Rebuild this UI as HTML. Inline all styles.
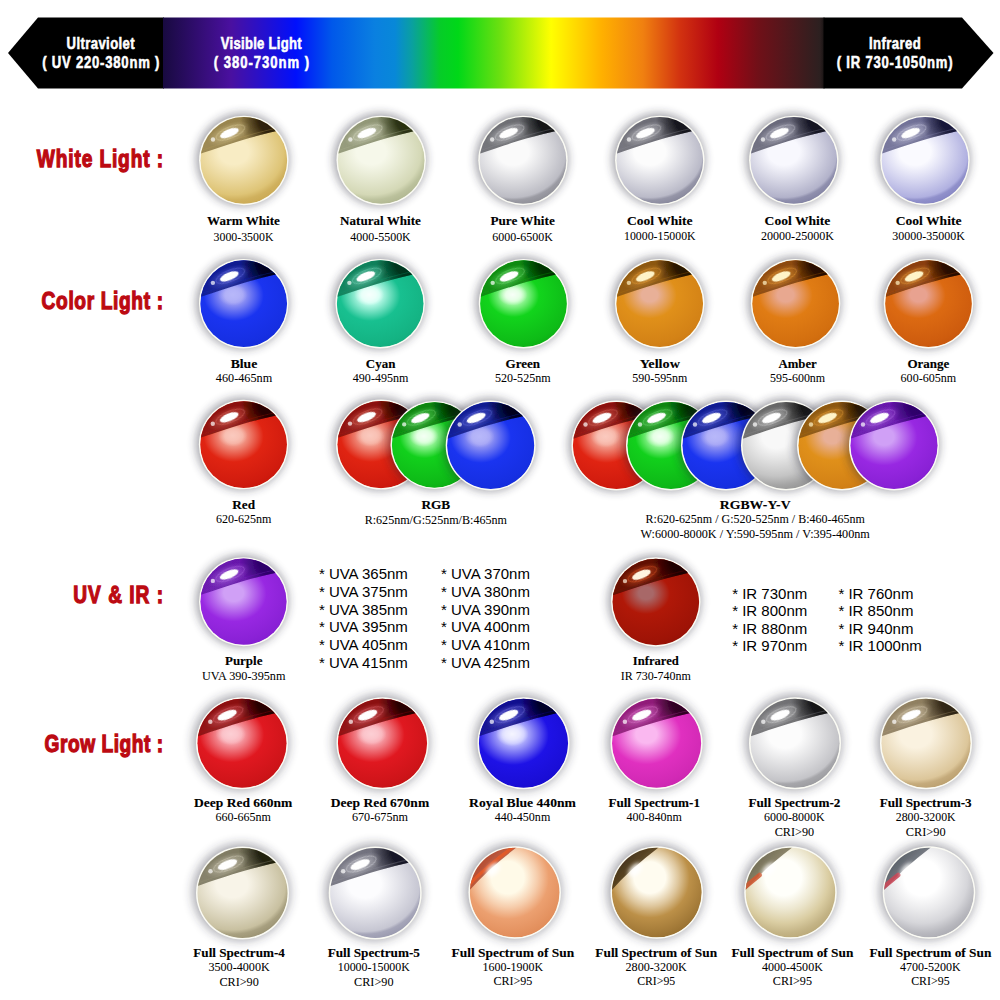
<!DOCTYPE html>
<html><head><meta charset="utf-8"><style>
html,body{margin:0;padding:0;background:#fff;width:1000px;height:1000px;overflow:hidden}
svg{display:block}
.hd{font-family:"Liberation Sans",sans-serif;font-weight:bold;fill:#fff;stroke:#fff;stroke-width:0.55px}
.sec{font-family:"Liberation Sans",sans-serif;font-weight:bold;fill:#bc0a12;stroke:#bc0a12;stroke-width:1.3px;font-size:24.5px}
.lb{font-family:"Liberation Serif",serif;font-weight:bold;fill:#000;stroke:#000;stroke-width:0.12px;font-size:13.5px}
.sb{font-family:"Liberation Serif",serif;fill:#000;stroke:#000;stroke-width:0.05px;font-size:12.2px}
.ls{font-family:"Liberation Sans",sans-serif;fill:#000;font-size:15px}
</style></head><body>
<svg width="1000" height="1000" viewBox="0 0 1000 1000">
<defs>
<filter id="sh" x="-50%" y="-50%" width="200%" height="200%"><feGaussianBlur stdDeviation="5"/></filter>
<filter id="bl" x="-20%" y="-20%" width="140%" height="140%"><feGaussianBlur stdDeviation="0.7"/></filter>
<filter id="bl2" x="-50%" y="-50%" width="200%" height="200%"><feGaussianBlur stdDeviation="2"/></filter>
<clipPath id="cc"><circle r="43.6"/></clipPath>
</defs>
<defs><linearGradient id="spec" x1="163" x2="824" y1="0" y2="0" gradientUnits="userSpaceOnUse"><stop offset="0.0000" stop-color="#180a40"/><stop offset="0.1029" stop-color="#4a10a0"/><stop offset="0.2012" stop-color="#0010fc"/><stop offset="0.2557" stop-color="#0058ea"/><stop offset="0.3207" stop-color="#0a80e0"/><stop offset="0.3510" stop-color="#0888d8"/><stop offset="0.3767" stop-color="#0aa0a0"/><stop offset="0.4191" stop-color="#06cc28"/><stop offset="0.4463" stop-color="#00d818"/><stop offset="0.5098" stop-color="#6ce010"/><stop offset="0.5870" stop-color="#ffff00"/><stop offset="0.6641" stop-color="#ffb000"/><stop offset="0.7262" stop-color="#f08010"/><stop offset="0.7821" stop-color="#d23210"/><stop offset="0.8396" stop-color="#b00012"/><stop offset="0.9002" stop-color="#701018"/><stop offset="0.9939" stop-color="#2c2020"/><stop offset="1.0000" stop-color="#1a1414"/></linearGradient></defs>
<polygon points="8,53 38,17.5 164,17.5 164,88.5 38,88.5" fill="#000"/>
<rect x="163" y="17.5" width="661.5" height="71" fill="url(#spec)"/>
<polygon points="823.5,17.5 962,17.5 993.5,53 962,88.5 823.5,88.5" fill="#000"/>
<text transform="translate(66.3 48.75) scale(0.84 1)" x="0.3" y="0" textLength="81.07" lengthAdjust="spacing" class="hd" style="font-size:15.6px">Ultraviolet</text>
<text transform="translate(42 67.8) scale(0.84 1)" x="0.3" y="0" textLength="139.40" lengthAdjust="spacing" class="hd" style="font-size:15.6px">( UV 220-380nm )</text>
<text transform="translate(220.5 49.2) scale(0.84 1)" x="0.3" y="0" textLength="96.31" lengthAdjust="spacing" class="hd" style="font-size:15.6px">Visible Light</text>
<text transform="translate(213.5 67.7) scale(0.84 1)" x="0.3" y="0" textLength="113.57" lengthAdjust="spacing" class="hd" style="font-size:15.6px">( 380-730nm )</text>
<text transform="translate(868.7 48.9) scale(0.84 1)" x="0.3" y="0" textLength="61.55" lengthAdjust="spacing" class="hd" style="font-size:15.6px">Infrared</text>
<text transform="translate(836.5 67.7) scale(0.84 1)" x="0.3" y="0" textLength="137.86" lengthAdjust="spacing" class="hd" style="font-size:15.6px">( IR 730-1050nm)</text>
<text transform="translate(36.2 166.5) scale(0.78 1)" x="0.8" y="0" textLength="161.79" lengthAdjust="spacing" class="sec">White Light :</text>
<text transform="translate(41.0 309.2) scale(0.78 1)" x="0.8" y="0" textLength="155.64" lengthAdjust="spacing" class="sec">Color Light :</text>
<text transform="translate(72.6 602.7) scale(0.78 1)" x="0.8" y="0" textLength="115.26" lengthAdjust="spacing" class="sec">UV &amp; IR :</text>
<text transform="translate(44.0 752) scale(0.78 1)" x="0.8" y="0" textLength="152.05" lengthAdjust="spacing" class="sec">Grow Light :</text>
<g transform="translate(243.8,160.4) scale(0.9944)"><defs><radialGradient id="h1" cx="-10" cy="-7" r="64" fx="-10" fy="-9" gradientUnits="userSpaceOnUse" gradientTransform="translate(-10 -7) scale(1.18 1) translate(10 7)"><stop offset="0" stop-color="#f8ecc4"/><stop offset="0.198" stop-color="#f8ecc4"/><stop offset="0.429" stop-color="#ebd89d"/><stop offset="0.660" stop-color="#dec476"/><stop offset="0.74" stop-color="#d0b15e"/><stop offset="1" stop-color="#c09a40"/></radialGradient><radialGradient id="k1" cx="30" cy="-42" r="34" gradientUnits="userSpaceOnUse"><stop offset="0" stop-color="#281a04"/><stop offset="0.45" stop-color="#281a04" stop-opacity="0.92"/><stop offset="1" stop-color="#281a04" stop-opacity="0"/></radialGradient><radialGradient id="g1"><stop offset="0" stop-color="#f0e0ad" stop-opacity="0.75"/><stop offset="0.4" stop-color="#f0e0ad" stop-opacity="0.35"/><stop offset="1" stop-color="#f0e0ad" stop-opacity="0"/></radialGradient><clipPath id="tp1"><path d="M-50,-4.5 C-22,-14 8,-25 50,-33 L50,-50 L-50,-50 Z"/></clipPath><linearGradient id="q1" x1="-45" y1="0" x2="40" y2="-10" gradientUnits="userSpaceOnUse"><stop offset="0" stop-color="#8c7843" stop-opacity="0.81"/><stop offset="1" stop-color="#8c7843" stop-opacity="0.95"/></linearGradient></defs><circle cx="-1.2" cy="-0.8" r="46.5" fill="#202030" opacity="0.42" filter="url(#sh)"/><circle r="45" fill="#fbfbf4"/><g clip-path="url(#cc)"><circle r="44" fill="url(#h1)"/><g filter="url(#bl)"><g clip-path="url(#tp1)"><rect x="-50" y="-50" width="100" height="50" fill="url(#q1)"/><rect x="-50" y="-50" width="100" height="50" fill="url(#k1)"/><path d="M-50,-4.5 C-22,-14 8,-25 50,-33" transform="translate(0 -3)" fill="none" stroke="#b59e5c" stroke-width="1" opacity="0.3"/></g></g><ellipse cx="-15" cy="-27" rx="23" ry="10" transform="rotate(-22 -15 -27)" fill="url(#g1)"/><ellipse cx="-13.5" cy="-28" rx="15.5" ry="5.6" transform="rotate(-22 -13.5 -28)" fill="none" stroke="#f0e0ad" stroke-opacity="0.45" stroke-width="0.9" filter="url(#bl)"/><ellipse cx="-14.5" cy="-27.5" rx="10" ry="3.9" transform="rotate(-22 -14.5 -27.5)" fill="#ffffff" filter="url(#bl)"/><circle cx="-31" cy="-21" r="2.2" fill="#ffffff" opacity="0.7" filter="url(#bl)"/></g></g>
<g transform="translate(381.2,160.4) scale(0.9944)"><defs><radialGradient id="h2" cx="-10" cy="-7" r="64" fx="-10" fy="-9" gradientUnits="userSpaceOnUse" gradientTransform="translate(-10 -7) scale(1.18 1) translate(10 7)"><stop offset="0" stop-color="#f6f8ea"/><stop offset="0.198" stop-color="#f6f8ea"/><stop offset="0.429" stop-color="#e5e8d0"/><stop offset="0.660" stop-color="#d4d8b6"/><stop offset="0.74" stop-color="#bbc19c"/><stop offset="1" stop-color="#9ca47c"/></radialGradient><radialGradient id="k2" cx="30" cy="-42" r="34" gradientUnits="userSpaceOnUse"><stop offset="0" stop-color="#242c0c"/><stop offset="0.45" stop-color="#242c0c" stop-opacity="0.92"/><stop offset="1" stop-color="#242c0c" stop-opacity="0"/></radialGradient><radialGradient id="g2"><stop offset="0" stop-color="#eceeda" stop-opacity="0.75"/><stop offset="0.4" stop-color="#eceeda" stop-opacity="0.35"/><stop offset="1" stop-color="#eceeda" stop-opacity="0"/></radialGradient><clipPath id="tp2"><path d="M-50,-4.5 C-22,-14 8,-25 50,-33 L50,-50 L-50,-50 Z"/></clipPath><linearGradient id="q2" x1="-45" y1="0" x2="40" y2="-10" gradientUnits="userSpaceOnUse"><stop offset="0" stop-color="#858b6a" stop-opacity="0.81"/><stop offset="1" stop-color="#858b6a" stop-opacity="0.95"/></linearGradient></defs><circle cx="-1.2" cy="-0.8" r="46.5" fill="#202030" opacity="0.42" filter="url(#sh)"/><circle r="45" fill="#fbfbf4"/><g clip-path="url(#cc)"><circle r="44" fill="url(#h2)"/><g filter="url(#bl)"><g clip-path="url(#tp2)"><rect x="-50" y="-50" width="100" height="50" fill="url(#q2)"/><rect x="-50" y="-50" width="100" height="50" fill="url(#k2)"/><path d="M-50,-4.5 C-22,-14 8,-25 50,-33" transform="translate(0 -3)" fill="none" stroke="#acb290" stroke-width="1" opacity="0.3"/></g></g><ellipse cx="-15" cy="-27" rx="23" ry="10" transform="rotate(-22 -15 -27)" fill="url(#g2)"/><ellipse cx="-13.5" cy="-28" rx="15.5" ry="5.6" transform="rotate(-22 -13.5 -28)" fill="none" stroke="#eceeda" stroke-opacity="0.45" stroke-width="0.9" filter="url(#bl)"/><ellipse cx="-14.5" cy="-27.5" rx="10" ry="3.9" transform="rotate(-22 -14.5 -27.5)" fill="#ffffff" filter="url(#bl)"/><circle cx="-31" cy="-21" r="2.2" fill="#ffffff" opacity="0.7" filter="url(#bl)"/></g></g>
<g transform="translate(523,160.4) scale(0.9944)"><defs><radialGradient id="h3" cx="-10" cy="-7" r="64" fx="-10" fy="-9" gradientUnits="userSpaceOnUse" gradientTransform="translate(-10 -7) scale(1.18 1) translate(10 7)"><stop offset="0" stop-color="#fafafa"/><stop offset="0.210" stop-color="#fafafa"/><stop offset="0.455" stop-color="#dbdbdf"/><stop offset="0.700" stop-color="#bcbcc4"/><stop offset="0.74" stop-color="#9c9ca4"/><stop offset="1" stop-color="#74747c"/></radialGradient><radialGradient id="k3" cx="30" cy="-42" r="34" gradientUnits="userSpaceOnUse"><stop offset="0" stop-color="#101214"/><stop offset="0.45" stop-color="#101214" stop-opacity="0.92"/><stop offset="1" stop-color="#101214" stop-opacity="0"/></radialGradient><radialGradient id="g3"><stop offset="0" stop-color="#e7e7ea" stop-opacity="0.75"/><stop offset="0.4" stop-color="#e7e7ea" stop-opacity="0.35"/><stop offset="1" stop-color="#e7e7ea" stop-opacity="0"/></radialGradient><clipPath id="tp3"><path d="M-50,-4.5 C-22,-14 8,-25 50,-33 L50,-50 L-50,-50 Z"/></clipPath><linearGradient id="q3" x1="-45" y1="0" x2="40" y2="-10" gradientUnits="userSpaceOnUse"><stop offset="0" stop-color="#5d5e63" stop-opacity="0.81"/><stop offset="1" stop-color="#5d5e63" stop-opacity="0.95"/></linearGradient></defs><circle cx="-1.2" cy="-0.8" r="46.5" fill="#202030" opacity="0.42" filter="url(#sh)"/><circle r="45" fill="#fbfbf4"/><g clip-path="url(#cc)"><circle r="44" fill="url(#h3)"/><g filter="url(#bl)"><g clip-path="url(#tp3)"><rect x="-50" y="-50" width="100" height="50" fill="url(#q3)"/><rect x="-50" y="-50" width="100" height="50" fill="url(#k3)"/><path d="M-50,-4.5 C-22,-14 8,-25 50,-33" transform="translate(0 -3)" fill="none" stroke="#8c8d94" stroke-width="1" opacity="0.3"/></g></g><ellipse cx="-15" cy="-27" rx="23" ry="10" transform="rotate(-22 -15 -27)" fill="url(#g3)"/><ellipse cx="-13.5" cy="-28" rx="15.5" ry="5.6" transform="rotate(-22 -13.5 -28)" fill="none" stroke="#e7e7ea" stroke-opacity="0.45" stroke-width="0.9" filter="url(#bl)"/><ellipse cx="-14.5" cy="-27.5" rx="10" ry="3.9" transform="rotate(-22 -14.5 -27.5)" fill="#ffffff" filter="url(#bl)"/><circle cx="-31" cy="-21" r="2.2" fill="#ffffff" opacity="0.7" filter="url(#bl)"/></g></g>
<g transform="translate(659.8,160.4) scale(0.9944)"><defs><radialGradient id="h4" cx="-10" cy="-7" r="64" fx="-10" fy="-9" gradientUnits="userSpaceOnUse" gradientTransform="translate(-10 -7) scale(1.18 1) translate(10 7)"><stop offset="0" stop-color="#fcfcfc"/><stop offset="0.210" stop-color="#fcfcfc"/><stop offset="0.455" stop-color="#dbdbe2"/><stop offset="0.700" stop-color="#babac8"/><stop offset="0.74" stop-color="#9696a8"/><stop offset="1" stop-color="#6a6a82"/></radialGradient><radialGradient id="k4" cx="30" cy="-42" r="34" gradientUnits="userSpaceOnUse"><stop offset="0" stop-color="#121218"/><stop offset="0.45" stop-color="#121218" stop-opacity="0.92"/><stop offset="1" stop-color="#121218" stop-opacity="0"/></radialGradient><radialGradient id="g4"><stop offset="0" stop-color="#e8e8ec" stop-opacity="0.75"/><stop offset="0.4" stop-color="#e8e8ec" stop-opacity="0.35"/><stop offset="1" stop-color="#e8e8ec" stop-opacity="0"/></radialGradient><clipPath id="tp4"><path d="M-50,-4.5 C-22,-14 8,-25 50,-33 L50,-50 L-50,-50 Z"/></clipPath><linearGradient id="q4" x1="-45" y1="0" x2="40" y2="-10" gradientUnits="userSpaceOnUse"><stop offset="0" stop-color="#5e5e67" stop-opacity="0.81"/><stop offset="1" stop-color="#5e5e67" stop-opacity="0.95"/></linearGradient></defs><circle cx="-1.2" cy="-0.8" r="46.5" fill="#202030" opacity="0.42" filter="url(#sh)"/><circle r="45" fill="#fbfbf4"/><g clip-path="url(#cc)"><circle r="44" fill="url(#h4)"/><g filter="url(#bl)"><g clip-path="url(#tp4)"><rect x="-50" y="-50" width="100" height="50" fill="url(#q4)"/><rect x="-50" y="-50" width="100" height="50" fill="url(#k4)"/><path d="M-50,-4.5 C-22,-14 8,-25 50,-33" transform="translate(0 -3)" fill="none" stroke="#8c8c98" stroke-width="1" opacity="0.3"/></g></g><ellipse cx="-15" cy="-27" rx="23" ry="10" transform="rotate(-22 -15 -27)" fill="url(#g4)"/><ellipse cx="-13.5" cy="-28" rx="15.5" ry="5.6" transform="rotate(-22 -13.5 -28)" fill="none" stroke="#e8e8ec" stroke-opacity="0.45" stroke-width="0.9" filter="url(#bl)"/><ellipse cx="-14.5" cy="-27.5" rx="10" ry="3.9" transform="rotate(-22 -14.5 -27.5)" fill="#ffffff" filter="url(#bl)"/><circle cx="-31" cy="-21" r="2.2" fill="#ffffff" opacity="0.7" filter="url(#bl)"/></g></g>
<g transform="translate(793.8,160.4) scale(0.9944)"><defs><radialGradient id="h5" cx="-10" cy="-7" r="64" fx="-10" fy="-9" gradientUnits="userSpaceOnUse" gradientTransform="translate(-10 -7) scale(1.18 1) translate(10 7)"><stop offset="0" stop-color="#f8f8fe"/><stop offset="0.210" stop-color="#f8f8fe"/><stop offset="0.455" stop-color="#d5d5e4"/><stop offset="0.700" stop-color="#b2b2ca"/><stop offset="0.74" stop-color="#9090ae"/><stop offset="1" stop-color="#66668c"/></radialGradient><radialGradient id="k5" cx="30" cy="-42" r="34" gradientUnits="userSpaceOnUse"><stop offset="0" stop-color="#10101e"/><stop offset="0.45" stop-color="#10101e" stop-opacity="0.92"/><stop offset="1" stop-color="#10101e" stop-opacity="0"/></radialGradient><radialGradient id="g5"><stop offset="0" stop-color="#e3e3ee" stop-opacity="0.75"/><stop offset="0.4" stop-color="#e3e3ee" stop-opacity="0.35"/><stop offset="1" stop-color="#e3e3ee" stop-opacity="0"/></radialGradient><clipPath id="tp5"><path d="M-50,-4.5 C-22,-14 8,-25 50,-33 L50,-50 L-50,-50 Z"/></clipPath><linearGradient id="q5" x1="-45" y1="0" x2="40" y2="-10" gradientUnits="userSpaceOnUse"><stop offset="0" stop-color="#59596b" stop-opacity="0.81"/><stop offset="1" stop-color="#59596b" stop-opacity="0.95"/></linearGradient></defs><circle cx="-1.2" cy="-0.8" r="46.5" fill="#202030" opacity="0.42" filter="url(#sh)"/><circle r="45" fill="#fbfbf4"/><g clip-path="url(#cc)"><circle r="44" fill="url(#h5)"/><g filter="url(#bl)"><g clip-path="url(#tp5)"><rect x="-50" y="-50" width="100" height="50" fill="url(#q5)"/><rect x="-50" y="-50" width="100" height="50" fill="url(#k5)"/><path d="M-50,-4.5 C-22,-14 8,-25 50,-33" transform="translate(0 -3)" fill="none" stroke="#86869a" stroke-width="1" opacity="0.3"/></g></g><ellipse cx="-15" cy="-27" rx="23" ry="10" transform="rotate(-22 -15 -27)" fill="url(#g5)"/><ellipse cx="-13.5" cy="-28" rx="15.5" ry="5.6" transform="rotate(-22 -13.5 -28)" fill="none" stroke="#e3e3ee" stroke-opacity="0.45" stroke-width="0.9" filter="url(#bl)"/><ellipse cx="-14.5" cy="-27.5" rx="10" ry="3.9" transform="rotate(-22 -14.5 -27.5)" fill="#ffffff" filter="url(#bl)"/><circle cx="-31" cy="-21" r="2.2" fill="#ffffff" opacity="0.7" filter="url(#bl)"/></g></g>
<g transform="translate(925,160.4) scale(0.9944)"><defs><radialGradient id="h6" cx="-10" cy="-7" r="64" fx="-10" fy="-9" gradientUnits="userSpaceOnUse" gradientTransform="translate(-10 -7) scale(1.18 1) translate(10 7)"><stop offset="0" stop-color="#fafaff"/><stop offset="0.210" stop-color="#fafaff"/><stop offset="0.455" stop-color="#d5d5f0"/><stop offset="0.700" stop-color="#b0b0e0"/><stop offset="0.74" stop-color="#9191cb"/><stop offset="1" stop-color="#6c6cb2"/></radialGradient><radialGradient id="k6" cx="30" cy="-42" r="34" gradientUnits="userSpaceOnUse"><stop offset="0" stop-color="#141434"/><stop offset="0.45" stop-color="#141434" stop-opacity="0.92"/><stop offset="1" stop-color="#141434" stop-opacity="0"/></radialGradient><radialGradient id="g6"><stop offset="0" stop-color="#e4e4f6" stop-opacity="0.75"/><stop offset="0.4" stop-color="#e4e4f6" stop-opacity="0.35"/><stop offset="1" stop-color="#e4e4f6" stop-opacity="0"/></radialGradient><clipPath id="tp6"><path d="M-50,-4.5 C-22,-14 8,-25 50,-33 L50,-50 L-50,-50 Z"/></clipPath><linearGradient id="q6" x1="-45" y1="0" x2="40" y2="-10" gradientUnits="userSpaceOnUse"><stop offset="0" stop-color="#62628a" stop-opacity="0.81"/><stop offset="1" stop-color="#62628a" stop-opacity="0.95"/></linearGradient></defs><circle cx="-1.2" cy="-0.8" r="46.5" fill="#202030" opacity="0.42" filter="url(#sh)"/><circle r="45" fill="#fbfbf4"/><g clip-path="url(#cc)"><circle r="44" fill="url(#h6)"/><g filter="url(#bl)"><g clip-path="url(#tp6)"><rect x="-50" y="-50" width="100" height="50" fill="url(#q6)"/><rect x="-50" y="-50" width="100" height="50" fill="url(#k6)"/><path d="M-50,-4.5 C-22,-14 8,-25 50,-33" transform="translate(0 -3)" fill="none" stroke="#8989b5" stroke-width="1" opacity="0.3"/></g></g><ellipse cx="-15" cy="-27" rx="23" ry="10" transform="rotate(-22 -15 -27)" fill="url(#g6)"/><ellipse cx="-13.5" cy="-28" rx="15.5" ry="5.6" transform="rotate(-22 -13.5 -28)" fill="none" stroke="#e4e4f6" stroke-opacity="0.45" stroke-width="0.9" filter="url(#bl)"/><ellipse cx="-14.5" cy="-27.5" rx="10" ry="3.9" transform="rotate(-22 -14.5 -27.5)" fill="#ffffff" filter="url(#bl)"/><circle cx="-31" cy="-21" r="2.2" fill="#ffffff" opacity="0.7" filter="url(#bl)"/></g></g>
<g transform="translate(243.7,303.7) scale(0.9944)"><defs><radialGradient id="h7" cx="-10" cy="-7" r="64" fx="-10" fy="-9" gradientUnits="userSpaceOnUse" gradientTransform="translate(-10 -7) scale(1.18 1) translate(10 7)"><stop offset="0" stop-color="#a0a0f4"/><stop offset="0.120" stop-color="#a0a0f4"/><stop offset="0.260" stop-color="#5d6af2"/><stop offset="0.400" stop-color="#1a34f0"/><stop offset="0.74" stop-color="#162fe2"/><stop offset="1" stop-color="#1028d0"/></radialGradient><radialGradient id="k7" cx="30" cy="-42" r="34" gradientUnits="userSpaceOnUse"><stop offset="0" stop-color="#000018"/><stop offset="0.45" stop-color="#000018" stop-opacity="0.92"/><stop offset="1" stop-color="#000018" stop-opacity="0"/></radialGradient><radialGradient id="g7"><stop offset="0" stop-color="#7880f3" stop-opacity="0.75"/><stop offset="0.4" stop-color="#7880f3" stop-opacity="0.35"/><stop offset="1" stop-color="#7880f3" stop-opacity="0"/></radialGradient><clipPath id="tp7"><path d="M-50,-4.5 C-22,-14 8,-25 50,-33 L50,-50 L-50,-50 Z"/></clipPath><linearGradient id="q7" x1="-45" y1="0" x2="40" y2="-10" gradientUnits="userSpaceOnUse"><stop offset="0" stop-color="#0d1a84" stop-opacity="0.81"/><stop offset="1" stop-color="#0d1a84" stop-opacity="0.95"/></linearGradient></defs><circle cx="-1.2" cy="-0.8" r="46.5" fill="#202030" opacity="0.42" filter="url(#sh)"/><circle r="45" fill="#fbfbf4"/><g clip-path="url(#cc)"><circle r="44" fill="url(#h7)"/><radialGradient id="sp7"><stop offset="0" stop-color="#d0d0ff" stop-opacity="0.5"/><stop offset="0.45" stop-color="#d0d0ff" stop-opacity="0.38"/><stop offset="1" stop-color="#d0d0ff" stop-opacity="0"/></radialGradient><ellipse cx="-11" cy="-9" rx="15" ry="11" fill="url(#sp7)"/><g filter="url(#bl)"><g clip-path="url(#tp7)"><rect x="-50" y="-50" width="100" height="50" fill="url(#q7)"/><rect x="-50" y="-50" width="100" height="50" fill="url(#k7)"/><path d="M-50,-4.5 C-22,-14 8,-25 50,-33" transform="translate(0 -3)" fill="none" stroke="#1427ba" stroke-width="1" opacity="0.3"/></g></g><ellipse cx="-15" cy="-27" rx="23" ry="10" transform="rotate(-22 -15 -27)" fill="url(#g7)"/><ellipse cx="-13.5" cy="-28" rx="15.5" ry="5.6" transform="rotate(-22 -13.5 -28)" fill="none" stroke="#7880f3" stroke-opacity="0.45" stroke-width="0.9" filter="url(#bl)"/><ellipse cx="-14.5" cy="-27.5" rx="10" ry="3.9" transform="rotate(-22 -14.5 -27.5)" fill="#ffffff" filter="url(#bl)"/><circle cx="-31" cy="-21" r="2.2" fill="#ffffff" opacity="0.7" filter="url(#bl)"/></g></g>
<g transform="translate(380.2,303.7) scale(0.9944)"><defs><radialGradient id="h8" cx="-10" cy="-7" r="64" fx="-10" fy="-9" gradientUnits="userSpaceOnUse" gradientTransform="translate(-10 -7) scale(1.18 1) translate(10 7)"><stop offset="0" stop-color="#c8fff0"/><stop offset="0.120" stop-color="#c8fff0"/><stop offset="0.260" stop-color="#70e0c0"/><stop offset="0.400" stop-color="#18c090"/><stop offset="0.74" stop-color="#14b383"/><stop offset="1" stop-color="#0ea474"/></radialGradient><radialGradient id="k8" cx="30" cy="-42" r="34" gradientUnits="userSpaceOnUse"><stop offset="0" stop-color="#003018"/><stop offset="0.45" stop-color="#003018" stop-opacity="0.92"/><stop offset="1" stop-color="#003018" stop-opacity="0"/></radialGradient><radialGradient id="g8"><stop offset="0" stop-color="#93ecd3" stop-opacity="0.75"/><stop offset="0.4" stop-color="#93ecd3" stop-opacity="0.35"/><stop offset="1" stop-color="#93ecd3" stop-opacity="0"/></radialGradient><clipPath id="tp8"><path d="M-50,-4.5 C-22,-14 8,-25 50,-33 L50,-50 L-50,-50 Z"/></clipPath><linearGradient id="q8" x1="-45" y1="0" x2="40" y2="-10" gradientUnits="userSpaceOnUse"><stop offset="0" stop-color="#0c7854" stop-opacity="0.81"/><stop offset="1" stop-color="#0c7854" stop-opacity="0.95"/></linearGradient></defs><circle cx="-1.2" cy="-0.8" r="46.5" fill="#202030" opacity="0.42" filter="url(#sh)"/><circle r="45" fill="#fbfbf4"/><g clip-path="url(#cc)"><circle r="44" fill="url(#h8)"/><radialGradient id="sp8"><stop offset="0" stop-color="#ffffff" stop-opacity="0.85"/><stop offset="0.45" stop-color="#ffffff" stop-opacity="0.64"/><stop offset="1" stop-color="#ffffff" stop-opacity="0"/></radialGradient><ellipse cx="-11" cy="-9" rx="15" ry="11" fill="url(#sp8)"/><g filter="url(#bl)"><g clip-path="url(#tp8)"><rect x="-50" y="-50" width="100" height="50" fill="url(#q8)"/><rect x="-50" y="-50" width="100" height="50" fill="url(#k8)"/><path d="M-50,-4.5 C-22,-14 8,-25 50,-33" transform="translate(0 -3)" fill="none" stroke="#129c72" stroke-width="1" opacity="0.3"/></g></g><ellipse cx="-15" cy="-27" rx="23" ry="10" transform="rotate(-22 -15 -27)" fill="url(#g8)"/><ellipse cx="-13.5" cy="-28" rx="15.5" ry="5.6" transform="rotate(-22 -13.5 -28)" fill="none" stroke="#93ecd3" stroke-opacity="0.45" stroke-width="0.9" filter="url(#bl)"/><ellipse cx="-14.5" cy="-27.5" rx="10" ry="3.9" transform="rotate(-22 -14.5 -27.5)" fill="#ffffff" filter="url(#bl)"/><circle cx="-31" cy="-21" r="2.2" fill="#ffffff" opacity="0.7" filter="url(#bl)"/></g></g>
<g transform="translate(523.5,303.7) scale(0.9944)"><defs><radialGradient id="h9" cx="-10" cy="-7" r="64" fx="-10" fy="-9" gradientUnits="userSpaceOnUse" gradientTransform="translate(-10 -7) scale(1.18 1) translate(10 7)"><stop offset="0" stop-color="#b8ffb8"/><stop offset="0.102" stop-color="#b8ffb8"/><stop offset="0.221" stop-color="#65ea6a"/><stop offset="0.340" stop-color="#12d41c"/><stop offset="0.74" stop-color="#0ebb17"/><stop offset="1" stop-color="#089c10"/></radialGradient><radialGradient id="k9" cx="30" cy="-42" r="34" gradientUnits="userSpaceOnUse"><stop offset="0" stop-color="#002e00"/><stop offset="0.45" stop-color="#002e00" stop-opacity="0.92"/><stop offset="1" stop-color="#002e00" stop-opacity="0"/></radialGradient><radialGradient id="g9"><stop offset="0" stop-color="#86f289" stop-opacity="0.75"/><stop offset="0.4" stop-color="#86f289" stop-opacity="0.35"/><stop offset="1" stop-color="#86f289" stop-opacity="0"/></radialGradient><clipPath id="tp9"><path d="M-50,-4.5 C-22,-14 8,-25 50,-33 L50,-50 L-50,-50 Z"/></clipPath><linearGradient id="q9" x1="-45" y1="0" x2="40" y2="-10" gradientUnits="userSpaceOnUse"><stop offset="0" stop-color="#09810e" stop-opacity="0.81"/><stop offset="1" stop-color="#09810e" stop-opacity="0.95"/></linearGradient></defs><circle cx="-1.2" cy="-0.8" r="46.5" fill="#202030" opacity="0.42" filter="url(#sh)"/><circle r="45" fill="#fbfbf4"/><g clip-path="url(#cc)"><circle r="44" fill="url(#h9)"/><radialGradient id="sp9"><stop offset="0" stop-color="#ffffff" stop-opacity="0.9"/><stop offset="0.45" stop-color="#ffffff" stop-opacity="0.68"/><stop offset="1" stop-color="#ffffff" stop-opacity="0"/></radialGradient><ellipse cx="-11" cy="-9" rx="15" ry="11" fill="url(#sp9)"/><g filter="url(#bl)"><g clip-path="url(#tp9)"><rect x="-50" y="-50" width="100" height="50" fill="url(#q9)"/><rect x="-50" y="-50" width="100" height="50" fill="url(#k9)"/><path d="M-50,-4.5 C-22,-14 8,-25 50,-33" transform="translate(0 -3)" fill="none" stroke="#0eaa15" stroke-width="1" opacity="0.3"/></g></g><ellipse cx="-15" cy="-27" rx="23" ry="10" transform="rotate(-22 -15 -27)" fill="url(#g9)"/><ellipse cx="-13.5" cy="-28" rx="15.5" ry="5.6" transform="rotate(-22 -13.5 -28)" fill="none" stroke="#86f289" stroke-opacity="0.45" stroke-width="0.9" filter="url(#bl)"/><ellipse cx="-14.5" cy="-27.5" rx="10" ry="3.9" transform="rotate(-22 -14.5 -27.5)" fill="#ffffff" filter="url(#bl)"/><circle cx="-31" cy="-21" r="2.2" fill="#ffffff" opacity="0.7" filter="url(#bl)"/></g></g>
<g transform="translate(659.7,303.7) scale(0.9944)"><defs><radialGradient id="h10" cx="-10" cy="-7" r="64" fx="-10" fy="-9" gradientUnits="userSpaceOnUse" gradientTransform="translate(-10 -7) scale(1.18 1) translate(10 7)"><stop offset="0" stop-color="#e8b098"/><stop offset="0.108" stop-color="#e8b098"/><stop offset="0.234" stop-color="#e4a059"/><stop offset="0.360" stop-color="#e0901a"/><stop offset="0.74" stop-color="#d38216"/><stop offset="1" stop-color="#c47010"/></radialGradient><radialGradient id="k10" cx="30" cy="-42" r="34" gradientUnits="userSpaceOnUse"><stop offset="0" stop-color="#221000"/><stop offset="0.45" stop-color="#221000" stop-opacity="0.92"/><stop offset="1" stop-color="#221000" stop-opacity="0"/></radialGradient><radialGradient id="g10"><stop offset="0" stop-color="#ffb040" stop-opacity="0.75"/><stop offset="0.4" stop-color="#ffb040" stop-opacity="0.35"/><stop offset="1" stop-color="#ffb040" stop-opacity="0"/></radialGradient><clipPath id="tp10"><path d="M-50,-4.5 C-22,-14 8,-25 50,-33 L50,-50 L-50,-50 Z"/></clipPath><linearGradient id="q10" x1="-45" y1="0" x2="40" y2="-10" gradientUnits="userSpaceOnUse"><stop offset="0" stop-color="#81500d" stop-opacity="0.81"/><stop offset="1" stop-color="#81500d" stop-opacity="0.95"/></linearGradient></defs><circle cx="-1.2" cy="-0.8" r="46.5" fill="#202030" opacity="0.42" filter="url(#sh)"/><circle r="45" fill="#fbfbf4"/><g clip-path="url(#cc)"><circle r="44" fill="url(#h10)"/><g filter="url(#bl)"><g clip-path="url(#tp10)"><rect x="-50" y="-50" width="100" height="50" fill="url(#q10)"/><rect x="-50" y="-50" width="100" height="50" fill="url(#k10)"/><path d="M-50,-4.5 C-22,-14 8,-25 50,-33" transform="translate(0 -3)" fill="none" stroke="#b07014" stroke-width="1" opacity="0.3"/></g></g><ellipse cx="-15" cy="-27" rx="23" ry="10" transform="rotate(-22 -15 -27)" fill="url(#g10)"/><ellipse cx="-13.5" cy="-28" rx="15.5" ry="5.6" transform="rotate(-22 -13.5 -28)" fill="none" stroke="#ffb040" stroke-opacity="0.45" stroke-width="0.9" filter="url(#bl)"/><ellipse cx="-14.5" cy="-27.5" rx="10" ry="3.9" transform="rotate(-22 -14.5 -27.5)" fill="#fff4c8" filter="url(#bl)"/><circle cx="-31" cy="-21" r="2.2" fill="#fff4c8" opacity="0.7" filter="url(#bl)"/></g></g>
<g transform="translate(795.6,303.7) scale(0.9944)"><defs><radialGradient id="h11" cx="-10" cy="-7" r="64" fx="-10" fy="-9" gradientUnits="userSpaceOnUse" gradientTransform="translate(-10 -7) scale(1.18 1) translate(10 7)"><stop offset="0" stop-color="#e8a890"/><stop offset="0.108" stop-color="#e8a890"/><stop offset="0.234" stop-color="#e49252"/><stop offset="0.360" stop-color="#e07c14"/><stop offset="0.74" stop-color="#d36f0f"/><stop offset="1" stop-color="#c46008"/></radialGradient><radialGradient id="k11" cx="30" cy="-42" r="34" gradientUnits="userSpaceOnUse"><stop offset="0" stop-color="#220a00"/><stop offset="0.45" stop-color="#220a00" stop-opacity="0.92"/><stop offset="1" stop-color="#220a00" stop-opacity="0"/></radialGradient><radialGradient id="g11"><stop offset="0" stop-color="#ffb040" stop-opacity="0.75"/><stop offset="0.4" stop-color="#ffb040" stop-opacity="0.35"/><stop offset="1" stop-color="#ffb040" stop-opacity="0"/></radialGradient><clipPath id="tp11"><path d="M-50,-4.5 C-22,-14 8,-25 50,-33 L50,-50 L-50,-50 Z"/></clipPath><linearGradient id="q11" x1="-45" y1="0" x2="40" y2="-10" gradientUnits="userSpaceOnUse"><stop offset="0" stop-color="#81430a" stop-opacity="0.81"/><stop offset="1" stop-color="#81430a" stop-opacity="0.95"/></linearGradient></defs><circle cx="-1.2" cy="-0.8" r="46.5" fill="#202030" opacity="0.42" filter="url(#sh)"/><circle r="45" fill="#fbfbf4"/><g clip-path="url(#cc)"><circle r="44" fill="url(#h11)"/><g filter="url(#bl)"><g clip-path="url(#tp11)"><rect x="-50" y="-50" width="100" height="50" fill="url(#q11)"/><rect x="-50" y="-50" width="100" height="50" fill="url(#k11)"/><path d="M-50,-4.5 C-22,-14 8,-25 50,-33" transform="translate(0 -3)" fill="none" stroke="#b0600f" stroke-width="1" opacity="0.3"/></g></g><ellipse cx="-15" cy="-27" rx="23" ry="10" transform="rotate(-22 -15 -27)" fill="url(#g11)"/><ellipse cx="-13.5" cy="-28" rx="15.5" ry="5.6" transform="rotate(-22 -13.5 -28)" fill="none" stroke="#ffb040" stroke-opacity="0.45" stroke-width="0.9" filter="url(#bl)"/><ellipse cx="-14.5" cy="-27.5" rx="10" ry="3.9" transform="rotate(-22 -14.5 -27.5)" fill="#fff4c8" filter="url(#bl)"/><circle cx="-31" cy="-21" r="2.2" fill="#fff4c8" opacity="0.7" filter="url(#bl)"/></g></g>
<g transform="translate(928.5,303.7) scale(0.9944)"><defs><radialGradient id="h12" cx="-10" cy="-7" r="64" fx="-10" fy="-9" gradientUnits="userSpaceOnUse" gradientTransform="translate(-10 -7) scale(1.18 1) translate(10 7)"><stop offset="0" stop-color="#e8a290"/><stop offset="0.108" stop-color="#e8a290"/><stop offset="0.234" stop-color="#e28651"/><stop offset="0.360" stop-color="#dc6a12"/><stop offset="0.74" stop-color="#ce5c0e"/><stop offset="1" stop-color="#bc4c08"/></radialGradient><radialGradient id="k12" cx="30" cy="-42" r="34" gradientUnits="userSpaceOnUse"><stop offset="0" stop-color="#220800"/><stop offset="0.45" stop-color="#220800" stop-opacity="0.92"/><stop offset="1" stop-color="#220800" stop-opacity="0"/></radialGradient><radialGradient id="g12"><stop offset="0" stop-color="#ffb040" stop-opacity="0.75"/><stop offset="0.4" stop-color="#ffb040" stop-opacity="0.35"/><stop offset="1" stop-color="#ffb040" stop-opacity="0"/></radialGradient><clipPath id="tp12"><path d="M-50,-4.5 C-22,-14 8,-25 50,-33 L50,-50 L-50,-50 Z"/></clipPath><linearGradient id="q12" x1="-45" y1="0" x2="40" y2="-10" gradientUnits="userSpaceOnUse"><stop offset="0" stop-color="#7f3909" stop-opacity="0.81"/><stop offset="1" stop-color="#7f3909" stop-opacity="0.95"/></linearGradient></defs><circle cx="-1.2" cy="-0.8" r="46.5" fill="#202030" opacity="0.42" filter="url(#sh)"/><circle r="45" fill="#fbfbf4"/><g clip-path="url(#cc)"><circle r="44" fill="url(#h12)"/><g filter="url(#bl)"><g clip-path="url(#tp12)"><rect x="-50" y="-50" width="100" height="50" fill="url(#q12)"/><rect x="-50" y="-50" width="100" height="50" fill="url(#k12)"/><path d="M-50,-4.5 C-22,-14 8,-25 50,-33" transform="translate(0 -3)" fill="none" stroke="#ae520e" stroke-width="1" opacity="0.3"/></g></g><ellipse cx="-15" cy="-27" rx="23" ry="10" transform="rotate(-22 -15 -27)" fill="url(#g12)"/><ellipse cx="-13.5" cy="-28" rx="15.5" ry="5.6" transform="rotate(-22 -13.5 -28)" fill="none" stroke="#ffb040" stroke-opacity="0.45" stroke-width="0.9" filter="url(#bl)"/><ellipse cx="-14.5" cy="-27.5" rx="10" ry="3.9" transform="rotate(-22 -14.5 -27.5)" fill="#fff4c8" filter="url(#bl)"/><circle cx="-31" cy="-21" r="2.2" fill="#fff4c8" opacity="0.7" filter="url(#bl)"/></g></g>
<g transform="translate(243.6,444.6) scale(0.9944)"><defs><radialGradient id="h13" cx="-10" cy="-7" r="64" fx="-10" fy="-9" gradientUnits="userSpaceOnUse" gradientTransform="translate(-10 -7) scale(1.18 1) translate(10 7)"><stop offset="0" stop-color="#f4a898"/><stop offset="0.120" stop-color="#f4a898"/><stop offset="0.260" stop-color="#ea6655"/><stop offset="0.400" stop-color="#e02412"/><stop offset="0.74" stop-color="#d01b0e"/><stop offset="1" stop-color="#bc1008"/></radialGradient><radialGradient id="k13" cx="30" cy="-42" r="34" gradientUnits="userSpaceOnUse"><stop offset="0" stop-color="#200000"/><stop offset="0.45" stop-color="#200000" stop-opacity="0.92"/><stop offset="1" stop-color="#200000" stop-opacity="0"/></radialGradient><radialGradient id="g13"><stop offset="0" stop-color="#ee8070" stop-opacity="0.75"/><stop offset="0.4" stop-color="#ee8070" stop-opacity="0.35"/><stop offset="1" stop-color="#ee8070" stop-opacity="0"/></radialGradient><clipPath id="tp13"><path d="M-50,-4.5 C-22,-14 8,-25 50,-33 L50,-50 L-50,-50 Z"/></clipPath><linearGradient id="q13" x1="-45" y1="0" x2="40" y2="-10" gradientUnits="userSpaceOnUse"><stop offset="0" stop-color="#801209" stop-opacity="0.81"/><stop offset="1" stop-color="#801209" stop-opacity="0.95"/></linearGradient></defs><circle cx="-1.2" cy="-0.8" r="46.5" fill="#202030" opacity="0.42" filter="url(#sh)"/><circle r="45" fill="#fbfbf4"/><g clip-path="url(#cc)"><circle r="44" fill="url(#h13)"/><radialGradient id="sp13"><stop offset="0" stop-color="#ffe0d8" stop-opacity="0.6"/><stop offset="0.45" stop-color="#ffe0d8" stop-opacity="0.45"/><stop offset="1" stop-color="#ffe0d8" stop-opacity="0"/></radialGradient><ellipse cx="-11" cy="-9" rx="15" ry="11" fill="url(#sp13)"/><g filter="url(#bl)"><g clip-path="url(#tp13)"><rect x="-50" y="-50" width="100" height="50" fill="url(#q13)"/><rect x="-50" y="-50" width="100" height="50" fill="url(#k13)"/><path d="M-50,-4.5 C-22,-14 8,-25 50,-33" transform="translate(0 -3)" fill="none" stroke="#b01b0e" stroke-width="1" opacity="0.3"/></g></g><ellipse cx="-15" cy="-27" rx="23" ry="10" transform="rotate(-22 -15 -27)" fill="url(#g13)"/><ellipse cx="-13.5" cy="-28" rx="15.5" ry="5.6" transform="rotate(-22 -13.5 -28)" fill="none" stroke="#ee8070" stroke-opacity="0.45" stroke-width="0.9" filter="url(#bl)"/><ellipse cx="-14.5" cy="-27.5" rx="10" ry="3.9" transform="rotate(-22 -14.5 -27.5)" fill="#ffffff" filter="url(#bl)"/><circle cx="-31" cy="-21" r="2.2" fill="#ffffff" opacity="0.7" filter="url(#bl)"/></g></g>
<g transform="translate(381,444.6) scale(1.0000)"><defs><radialGradient id="h14" cx="-10" cy="-7" r="64" fx="-10" fy="-9" gradientUnits="userSpaceOnUse" gradientTransform="translate(-10 -7) scale(1.18 1) translate(10 7)"><stop offset="0" stop-color="#f4a898"/><stop offset="0.120" stop-color="#f4a898"/><stop offset="0.260" stop-color="#ea6655"/><stop offset="0.400" stop-color="#e02412"/><stop offset="0.74" stop-color="#d01b0e"/><stop offset="1" stop-color="#bc1008"/></radialGradient><radialGradient id="k14" cx="30" cy="-42" r="34" gradientUnits="userSpaceOnUse"><stop offset="0" stop-color="#200000"/><stop offset="0.45" stop-color="#200000" stop-opacity="0.92"/><stop offset="1" stop-color="#200000" stop-opacity="0"/></radialGradient><radialGradient id="g14"><stop offset="0" stop-color="#ee8070" stop-opacity="0.75"/><stop offset="0.4" stop-color="#ee8070" stop-opacity="0.35"/><stop offset="1" stop-color="#ee8070" stop-opacity="0"/></radialGradient><clipPath id="tp14"><path d="M-50,-4.5 C-22,-14 8,-25 50,-33 L50,-50 L-50,-50 Z"/></clipPath><linearGradient id="q14" x1="-45" y1="0" x2="40" y2="-10" gradientUnits="userSpaceOnUse"><stop offset="0" stop-color="#801209" stop-opacity="0.81"/><stop offset="1" stop-color="#801209" stop-opacity="0.95"/></linearGradient></defs><circle cx="-1.2" cy="-0.8" r="46.5" fill="#202030" opacity="0.42" filter="url(#sh)"/><circle r="45" fill="#fbfbf4"/><g clip-path="url(#cc)"><circle r="44" fill="url(#h14)"/><radialGradient id="sp14"><stop offset="0" stop-color="#ffe0d8" stop-opacity="0.6"/><stop offset="0.45" stop-color="#ffe0d8" stop-opacity="0.45"/><stop offset="1" stop-color="#ffe0d8" stop-opacity="0"/></radialGradient><ellipse cx="-11" cy="-9" rx="15" ry="11" fill="url(#sp14)"/><g filter="url(#bl)"><g clip-path="url(#tp14)"><rect x="-50" y="-50" width="100" height="50" fill="url(#q14)"/><rect x="-50" y="-50" width="100" height="50" fill="url(#k14)"/><path d="M-50,-4.5 C-22,-14 8,-25 50,-33" transform="translate(0 -3)" fill="none" stroke="#b01b0e" stroke-width="1" opacity="0.3"/></g></g><ellipse cx="-15" cy="-27" rx="23" ry="10" transform="rotate(-22 -15 -27)" fill="url(#g14)"/><ellipse cx="-13.5" cy="-28" rx="15.5" ry="5.6" transform="rotate(-22 -13.5 -28)" fill="none" stroke="#ee8070" stroke-opacity="0.45" stroke-width="0.9" filter="url(#bl)"/><ellipse cx="-14.5" cy="-27.5" rx="10" ry="3.9" transform="rotate(-22 -14.5 -27.5)" fill="#ffffff" filter="url(#bl)"/><circle cx="-31" cy="-21" r="2.2" fill="#ffffff" opacity="0.7" filter="url(#bl)"/></g></g>
<g transform="translate(434.5,445) scale(0.9778)"><defs><radialGradient id="h15" cx="-10" cy="-7" r="64" fx="-10" fy="-9" gradientUnits="userSpaceOnUse" gradientTransform="translate(-10 -7) scale(1.18 1) translate(10 7)"><stop offset="0" stop-color="#b8ffb8"/><stop offset="0.102" stop-color="#b8ffb8"/><stop offset="0.221" stop-color="#65e86a"/><stop offset="0.340" stop-color="#12d01c"/><stop offset="0.74" stop-color="#0eb917"/><stop offset="1" stop-color="#089c10"/></radialGradient><radialGradient id="k15" cx="30" cy="-42" r="34" gradientUnits="userSpaceOnUse"><stop offset="0" stop-color="#002a00"/><stop offset="0.45" stop-color="#002a00" stop-opacity="0.92"/><stop offset="1" stop-color="#002a00" stop-opacity="0"/></radialGradient><radialGradient id="g15"><stop offset="0" stop-color="#86f189" stop-opacity="0.75"/><stop offset="0.4" stop-color="#86f189" stop-opacity="0.35"/><stop offset="1" stop-color="#86f189" stop-opacity="0"/></radialGradient><clipPath id="tp15"><path d="M-50,-4.5 C-22,-14 8,-25 50,-33 L50,-50 L-50,-50 Z"/></clipPath><linearGradient id="q15" x1="-45" y1="0" x2="40" y2="-10" gradientUnits="userSpaceOnUse"><stop offset="0" stop-color="#097d0e" stop-opacity="0.81"/><stop offset="1" stop-color="#097d0e" stop-opacity="0.95"/></linearGradient></defs><circle cx="-1.2" cy="-0.8" r="46.5" fill="#202030" opacity="0.42" filter="url(#sh)"/><circle r="45" fill="#fbfbf4"/><g clip-path="url(#cc)"><circle r="44" fill="url(#h15)"/><radialGradient id="sp15"><stop offset="0" stop-color="#ffffff" stop-opacity="0.85"/><stop offset="0.45" stop-color="#ffffff" stop-opacity="0.64"/><stop offset="1" stop-color="#ffffff" stop-opacity="0"/></radialGradient><ellipse cx="-11" cy="-9" rx="15" ry="11" fill="url(#sp15)"/><g filter="url(#bl)"><g clip-path="url(#tp15)"><rect x="-50" y="-50" width="100" height="50" fill="url(#q15)"/><rect x="-50" y="-50" width="100" height="50" fill="url(#k15)"/><path d="M-50,-4.5 C-22,-14 8,-25 50,-33" transform="translate(0 -3)" fill="none" stroke="#0ea615" stroke-width="1" opacity="0.3"/></g></g><ellipse cx="-15" cy="-27" rx="23" ry="10" transform="rotate(-22 -15 -27)" fill="url(#g15)"/><ellipse cx="-13.5" cy="-28" rx="15.5" ry="5.6" transform="rotate(-22 -13.5 -28)" fill="none" stroke="#86f189" stroke-opacity="0.45" stroke-width="0.9" filter="url(#bl)"/><ellipse cx="-14.5" cy="-27.5" rx="10" ry="3.9" transform="rotate(-22 -14.5 -27.5)" fill="#ffffff" filter="url(#bl)"/><circle cx="-31" cy="-21" r="2.2" fill="#ffffff" opacity="0.7" filter="url(#bl)"/></g></g>
<g transform="translate(490.7,445.5) scale(1.0000)"><defs><radialGradient id="h16" cx="-10" cy="-7" r="64" fx="-10" fy="-9" gradientUnits="userSpaceOnUse" gradientTransform="translate(-10 -7) scale(1.18 1) translate(10 7)"><stop offset="0" stop-color="#a0a0f4"/><stop offset="0.120" stop-color="#a0a0f4"/><stop offset="0.260" stop-color="#5d6af2"/><stop offset="0.400" stop-color="#1a34f0"/><stop offset="0.74" stop-color="#162fe2"/><stop offset="1" stop-color="#1028d0"/></radialGradient><radialGradient id="k16" cx="30" cy="-42" r="34" gradientUnits="userSpaceOnUse"><stop offset="0" stop-color="#000018"/><stop offset="0.45" stop-color="#000018" stop-opacity="0.92"/><stop offset="1" stop-color="#000018" stop-opacity="0"/></radialGradient><radialGradient id="g16"><stop offset="0" stop-color="#7880f3" stop-opacity="0.75"/><stop offset="0.4" stop-color="#7880f3" stop-opacity="0.35"/><stop offset="1" stop-color="#7880f3" stop-opacity="0"/></radialGradient><clipPath id="tp16"><path d="M-50,-4.5 C-22,-14 8,-25 50,-33 L50,-50 L-50,-50 Z"/></clipPath><linearGradient id="q16" x1="-45" y1="0" x2="40" y2="-10" gradientUnits="userSpaceOnUse"><stop offset="0" stop-color="#0d1a84" stop-opacity="0.81"/><stop offset="1" stop-color="#0d1a84" stop-opacity="0.95"/></linearGradient></defs><circle cx="-1.2" cy="-0.8" r="46.5" fill="#202030" opacity="0.42" filter="url(#sh)"/><circle r="45" fill="#fbfbf4"/><g clip-path="url(#cc)"><circle r="44" fill="url(#h16)"/><radialGradient id="sp16"><stop offset="0" stop-color="#d0d0ff" stop-opacity="0.5"/><stop offset="0.45" stop-color="#d0d0ff" stop-opacity="0.38"/><stop offset="1" stop-color="#d0d0ff" stop-opacity="0"/></radialGradient><ellipse cx="-11" cy="-9" rx="15" ry="11" fill="url(#sp16)"/><g filter="url(#bl)"><g clip-path="url(#tp16)"><rect x="-50" y="-50" width="100" height="50" fill="url(#q16)"/><rect x="-50" y="-50" width="100" height="50" fill="url(#k16)"/><path d="M-50,-4.5 C-22,-14 8,-25 50,-33" transform="translate(0 -3)" fill="none" stroke="#1427ba" stroke-width="1" opacity="0.3"/></g></g><ellipse cx="-15" cy="-27" rx="23" ry="10" transform="rotate(-22 -15 -27)" fill="url(#g16)"/><ellipse cx="-13.5" cy="-28" rx="15.5" ry="5.6" transform="rotate(-22 -13.5 -28)" fill="none" stroke="#7880f3" stroke-opacity="0.45" stroke-width="0.9" filter="url(#bl)"/><ellipse cx="-14.5" cy="-27.5" rx="10" ry="3.9" transform="rotate(-22 -14.5 -27.5)" fill="#ffffff" filter="url(#bl)"/><circle cx="-31" cy="-21" r="2.2" fill="#ffffff" opacity="0.7" filter="url(#bl)"/></g></g>
<g transform="translate(616.5,445.5) scale(1.0000)"><defs><radialGradient id="h17" cx="-10" cy="-7" r="64" fx="-10" fy="-9" gradientUnits="userSpaceOnUse" gradientTransform="translate(-10 -7) scale(1.18 1) translate(10 7)"><stop offset="0" stop-color="#f4a898"/><stop offset="0.120" stop-color="#f4a898"/><stop offset="0.260" stop-color="#ea6655"/><stop offset="0.400" stop-color="#e02412"/><stop offset="0.74" stop-color="#d01b0e"/><stop offset="1" stop-color="#bc1008"/></radialGradient><radialGradient id="k17" cx="30" cy="-42" r="34" gradientUnits="userSpaceOnUse"><stop offset="0" stop-color="#200000"/><stop offset="0.45" stop-color="#200000" stop-opacity="0.92"/><stop offset="1" stop-color="#200000" stop-opacity="0"/></radialGradient><radialGradient id="g17"><stop offset="0" stop-color="#ee8070" stop-opacity="0.75"/><stop offset="0.4" stop-color="#ee8070" stop-opacity="0.35"/><stop offset="1" stop-color="#ee8070" stop-opacity="0"/></radialGradient><clipPath id="tp17"><path d="M-50,-4.5 C-22,-14 8,-25 50,-33 L50,-50 L-50,-50 Z"/></clipPath><linearGradient id="q17" x1="-45" y1="0" x2="40" y2="-10" gradientUnits="userSpaceOnUse"><stop offset="0" stop-color="#801209" stop-opacity="0.81"/><stop offset="1" stop-color="#801209" stop-opacity="0.95"/></linearGradient></defs><circle cx="-1.2" cy="-0.8" r="46.5" fill="#202030" opacity="0.42" filter="url(#sh)"/><circle r="45" fill="#fbfbf4"/><g clip-path="url(#cc)"><circle r="44" fill="url(#h17)"/><radialGradient id="sp17"><stop offset="0" stop-color="#ffe0d8" stop-opacity="0.6"/><stop offset="0.45" stop-color="#ffe0d8" stop-opacity="0.45"/><stop offset="1" stop-color="#ffe0d8" stop-opacity="0"/></radialGradient><ellipse cx="-11" cy="-9" rx="15" ry="11" fill="url(#sp17)"/><g filter="url(#bl)"><g clip-path="url(#tp17)"><rect x="-50" y="-50" width="100" height="50" fill="url(#q17)"/><rect x="-50" y="-50" width="100" height="50" fill="url(#k17)"/><path d="M-50,-4.5 C-22,-14 8,-25 50,-33" transform="translate(0 -3)" fill="none" stroke="#b01b0e" stroke-width="1" opacity="0.3"/></g></g><ellipse cx="-15" cy="-27" rx="23" ry="10" transform="rotate(-22 -15 -27)" fill="url(#g17)"/><ellipse cx="-13.5" cy="-28" rx="15.5" ry="5.6" transform="rotate(-22 -13.5 -28)" fill="none" stroke="#ee8070" stroke-opacity="0.45" stroke-width="0.9" filter="url(#bl)"/><ellipse cx="-14.5" cy="-27.5" rx="10" ry="3.9" transform="rotate(-22 -14.5 -27.5)" fill="#ffffff" filter="url(#bl)"/><circle cx="-31" cy="-21" r="2.2" fill="#ffffff" opacity="0.7" filter="url(#bl)"/></g></g>
<g transform="translate(671,445.5) scale(1.0000)"><defs><radialGradient id="h18" cx="-10" cy="-7" r="64" fx="-10" fy="-9" gradientUnits="userSpaceOnUse" gradientTransform="translate(-10 -7) scale(1.18 1) translate(10 7)"><stop offset="0" stop-color="#b8ffb8"/><stop offset="0.102" stop-color="#b8ffb8"/><stop offset="0.221" stop-color="#65e86a"/><stop offset="0.340" stop-color="#12d01c"/><stop offset="0.74" stop-color="#0eb917"/><stop offset="1" stop-color="#089c10"/></radialGradient><radialGradient id="k18" cx="30" cy="-42" r="34" gradientUnits="userSpaceOnUse"><stop offset="0" stop-color="#002a00"/><stop offset="0.45" stop-color="#002a00" stop-opacity="0.92"/><stop offset="1" stop-color="#002a00" stop-opacity="0"/></radialGradient><radialGradient id="g18"><stop offset="0" stop-color="#86f189" stop-opacity="0.75"/><stop offset="0.4" stop-color="#86f189" stop-opacity="0.35"/><stop offset="1" stop-color="#86f189" stop-opacity="0"/></radialGradient><clipPath id="tp18"><path d="M-50,-4.5 C-22,-14 8,-25 50,-33 L50,-50 L-50,-50 Z"/></clipPath><linearGradient id="q18" x1="-45" y1="0" x2="40" y2="-10" gradientUnits="userSpaceOnUse"><stop offset="0" stop-color="#097d0e" stop-opacity="0.81"/><stop offset="1" stop-color="#097d0e" stop-opacity="0.95"/></linearGradient></defs><circle cx="-1.2" cy="-0.8" r="46.5" fill="#202030" opacity="0.42" filter="url(#sh)"/><circle r="45" fill="#fbfbf4"/><g clip-path="url(#cc)"><circle r="44" fill="url(#h18)"/><radialGradient id="sp18"><stop offset="0" stop-color="#ffffff" stop-opacity="0.85"/><stop offset="0.45" stop-color="#ffffff" stop-opacity="0.64"/><stop offset="1" stop-color="#ffffff" stop-opacity="0"/></radialGradient><ellipse cx="-11" cy="-9" rx="15" ry="11" fill="url(#sp18)"/><g filter="url(#bl)"><g clip-path="url(#tp18)"><rect x="-50" y="-50" width="100" height="50" fill="url(#q18)"/><rect x="-50" y="-50" width="100" height="50" fill="url(#k18)"/><path d="M-50,-4.5 C-22,-14 8,-25 50,-33" transform="translate(0 -3)" fill="none" stroke="#0ea615" stroke-width="1" opacity="0.3"/></g></g><ellipse cx="-15" cy="-27" rx="23" ry="10" transform="rotate(-22 -15 -27)" fill="url(#g18)"/><ellipse cx="-13.5" cy="-28" rx="15.5" ry="5.6" transform="rotate(-22 -13.5 -28)" fill="none" stroke="#86f189" stroke-opacity="0.45" stroke-width="0.9" filter="url(#bl)"/><ellipse cx="-14.5" cy="-27.5" rx="10" ry="3.9" transform="rotate(-22 -14.5 -27.5)" fill="#ffffff" filter="url(#bl)"/><circle cx="-31" cy="-21" r="2.2" fill="#ffffff" opacity="0.7" filter="url(#bl)"/></g></g>
<g transform="translate(726,445.5) scale(1.0000)"><defs><radialGradient id="h19" cx="-10" cy="-7" r="64" fx="-10" fy="-9" gradientUnits="userSpaceOnUse" gradientTransform="translate(-10 -7) scale(1.18 1) translate(10 7)"><stop offset="0" stop-color="#a0a0f4"/><stop offset="0.120" stop-color="#a0a0f4"/><stop offset="0.260" stop-color="#5d6af2"/><stop offset="0.400" stop-color="#1a34f0"/><stop offset="0.74" stop-color="#162fe2"/><stop offset="1" stop-color="#1028d0"/></radialGradient><radialGradient id="k19" cx="30" cy="-42" r="34" gradientUnits="userSpaceOnUse"><stop offset="0" stop-color="#000018"/><stop offset="0.45" stop-color="#000018" stop-opacity="0.92"/><stop offset="1" stop-color="#000018" stop-opacity="0"/></radialGradient><radialGradient id="g19"><stop offset="0" stop-color="#7880f3" stop-opacity="0.75"/><stop offset="0.4" stop-color="#7880f3" stop-opacity="0.35"/><stop offset="1" stop-color="#7880f3" stop-opacity="0"/></radialGradient><clipPath id="tp19"><path d="M-50,-4.5 C-22,-14 8,-25 50,-33 L50,-50 L-50,-50 Z"/></clipPath><linearGradient id="q19" x1="-45" y1="0" x2="40" y2="-10" gradientUnits="userSpaceOnUse"><stop offset="0" stop-color="#0d1a84" stop-opacity="0.81"/><stop offset="1" stop-color="#0d1a84" stop-opacity="0.95"/></linearGradient></defs><circle cx="-1.2" cy="-0.8" r="46.5" fill="#202030" opacity="0.42" filter="url(#sh)"/><circle r="45" fill="#fbfbf4"/><g clip-path="url(#cc)"><circle r="44" fill="url(#h19)"/><radialGradient id="sp19"><stop offset="0" stop-color="#d0d0ff" stop-opacity="0.5"/><stop offset="0.45" stop-color="#d0d0ff" stop-opacity="0.38"/><stop offset="1" stop-color="#d0d0ff" stop-opacity="0"/></radialGradient><ellipse cx="-11" cy="-9" rx="15" ry="11" fill="url(#sp19)"/><g filter="url(#bl)"><g clip-path="url(#tp19)"><rect x="-50" y="-50" width="100" height="50" fill="url(#q19)"/><rect x="-50" y="-50" width="100" height="50" fill="url(#k19)"/><path d="M-50,-4.5 C-22,-14 8,-25 50,-33" transform="translate(0 -3)" fill="none" stroke="#1427ba" stroke-width="1" opacity="0.3"/></g></g><ellipse cx="-15" cy="-27" rx="23" ry="10" transform="rotate(-22 -15 -27)" fill="url(#g19)"/><ellipse cx="-13.5" cy="-28" rx="15.5" ry="5.6" transform="rotate(-22 -13.5 -28)" fill="none" stroke="#7880f3" stroke-opacity="0.45" stroke-width="0.9" filter="url(#bl)"/><ellipse cx="-14.5" cy="-27.5" rx="10" ry="3.9" transform="rotate(-22 -14.5 -27.5)" fill="#ffffff" filter="url(#bl)"/><circle cx="-31" cy="-21" r="2.2" fill="#ffffff" opacity="0.7" filter="url(#bl)"/></g></g>
<g transform="translate(786,445.5) scale(1.0000)"><defs><radialGradient id="h20" cx="-10" cy="-7" r="64" fx="-10" fy="-9" gradientUnits="userSpaceOnUse" gradientTransform="translate(-10 -7) scale(1.18 1) translate(10 7)"><stop offset="0" stop-color="#f8f8f8"/><stop offset="0.180" stop-color="#f8f8f8"/><stop offset="0.390" stop-color="#dedede"/><stop offset="0.600" stop-color="#c4c4c4"/><stop offset="0.74" stop-color="#a4a4a4"/><stop offset="1" stop-color="#7c7c7c"/></radialGradient><radialGradient id="k20" cx="30" cy="-42" r="34" gradientUnits="userSpaceOnUse"><stop offset="0" stop-color="#121212"/><stop offset="0.45" stop-color="#121212" stop-opacity="0.92"/><stop offset="1" stop-color="#121212" stop-opacity="0"/></radialGradient><radialGradient id="g20"><stop offset="0" stop-color="#e8e8e8" stop-opacity="0.75"/><stop offset="0.4" stop-color="#e8e8e8" stop-opacity="0.35"/><stop offset="1" stop-color="#e8e8e8" stop-opacity="0"/></radialGradient><clipPath id="tp20"><path d="M-50,-4.5 C-22,-14 8,-25 50,-33 L50,-50 L-50,-50 Z"/></clipPath><linearGradient id="q20" x1="-45" y1="0" x2="40" y2="-10" gradientUnits="userSpaceOnUse"><stop offset="0" stop-color="#595959" stop-opacity="0.81"/><stop offset="1" stop-color="#595959" stop-opacity="0.95"/></linearGradient></defs><circle cx="-1.2" cy="-0.8" r="46.5" fill="#202030" opacity="0.42" filter="url(#sh)"/><circle r="45" fill="#fbfbf4"/><g clip-path="url(#cc)"><circle r="44" fill="url(#h20)"/><g filter="url(#bl)"><g clip-path="url(#tp20)"><rect x="-50" y="-50" width="100" height="50" fill="url(#q20)"/><rect x="-50" y="-50" width="100" height="50" fill="url(#k20)"/><path d="M-50,-4.5 C-22,-14 8,-25 50,-33" transform="translate(0 -3)" fill="none" stroke="#8e8e8e" stroke-width="1" opacity="0.3"/></g></g><ellipse cx="-15" cy="-27" rx="23" ry="10" transform="rotate(-22 -15 -27)" fill="url(#g20)"/><ellipse cx="-13.5" cy="-28" rx="15.5" ry="5.6" transform="rotate(-22 -13.5 -28)" fill="none" stroke="#e8e8e8" stroke-opacity="0.45" stroke-width="0.9" filter="url(#bl)"/><ellipse cx="-14.5" cy="-27.5" rx="10" ry="3.9" transform="rotate(-22 -14.5 -27.5)" fill="#ffffff" filter="url(#bl)"/><circle cx="-31" cy="-21" r="2.2" fill="#ffffff" opacity="0.7" filter="url(#bl)"/></g></g>
<g transform="translate(842,445.5) scale(1.0000)"><defs><radialGradient id="h21" cx="-10" cy="-7" r="64" fx="-10" fy="-9" gradientUnits="userSpaceOnUse" gradientTransform="translate(-10 -7) scale(1.18 1) translate(10 7)"><stop offset="0" stop-color="#e8b098"/><stop offset="0.108" stop-color="#e8b098"/><stop offset="0.234" stop-color="#e4a059"/><stop offset="0.360" stop-color="#e0901a"/><stop offset="0.74" stop-color="#d38216"/><stop offset="1" stop-color="#c47010"/></radialGradient><radialGradient id="k21" cx="30" cy="-42" r="34" gradientUnits="userSpaceOnUse"><stop offset="0" stop-color="#221000"/><stop offset="0.45" stop-color="#221000" stop-opacity="0.92"/><stop offset="1" stop-color="#221000" stop-opacity="0"/></radialGradient><radialGradient id="g21"><stop offset="0" stop-color="#ffb040" stop-opacity="0.75"/><stop offset="0.4" stop-color="#ffb040" stop-opacity="0.35"/><stop offset="1" stop-color="#ffb040" stop-opacity="0"/></radialGradient><clipPath id="tp21"><path d="M-50,-4.5 C-22,-14 8,-25 50,-33 L50,-50 L-50,-50 Z"/></clipPath><linearGradient id="q21" x1="-45" y1="0" x2="40" y2="-10" gradientUnits="userSpaceOnUse"><stop offset="0" stop-color="#81500d" stop-opacity="0.81"/><stop offset="1" stop-color="#81500d" stop-opacity="0.95"/></linearGradient></defs><circle cx="-1.2" cy="-0.8" r="46.5" fill="#202030" opacity="0.42" filter="url(#sh)"/><circle r="45" fill="#fbfbf4"/><g clip-path="url(#cc)"><circle r="44" fill="url(#h21)"/><g filter="url(#bl)"><g clip-path="url(#tp21)"><rect x="-50" y="-50" width="100" height="50" fill="url(#q21)"/><rect x="-50" y="-50" width="100" height="50" fill="url(#k21)"/><path d="M-50,-4.5 C-22,-14 8,-25 50,-33" transform="translate(0 -3)" fill="none" stroke="#b07014" stroke-width="1" opacity="0.3"/></g></g><ellipse cx="-15" cy="-27" rx="23" ry="10" transform="rotate(-22 -15 -27)" fill="url(#g21)"/><ellipse cx="-13.5" cy="-28" rx="15.5" ry="5.6" transform="rotate(-22 -13.5 -28)" fill="none" stroke="#ffb040" stroke-opacity="0.45" stroke-width="0.9" filter="url(#bl)"/><ellipse cx="-14.5" cy="-27.5" rx="10" ry="3.9" transform="rotate(-22 -14.5 -27.5)" fill="#fff4c8" filter="url(#bl)"/><circle cx="-31" cy="-21" r="2.2" fill="#fff4c8" opacity="0.7" filter="url(#bl)"/></g></g>
<g transform="translate(894,445.5) scale(1.0000)"><defs><radialGradient id="h22" cx="-10" cy="-7" r="64" fx="-10" fy="-9" gradientUnits="userSpaceOnUse" gradientTransform="translate(-10 -7) scale(1.18 1) translate(10 7)"><stop offset="0" stop-color="#d0a0f6"/><stop offset="0.132" stop-color="#d0a0f6"/><stop offset="0.286" stop-color="#b464ec"/><stop offset="0.440" stop-color="#9828e2"/><stop offset="0.74" stop-color="#8a21d6"/><stop offset="1" stop-color="#7818c8"/></radialGradient><radialGradient id="k22" cx="30" cy="-42" r="34" gradientUnits="userSpaceOnUse"><stop offset="0" stop-color="#2a0066"/><stop offset="0.45" stop-color="#2a0066" stop-opacity="0.92"/><stop offset="1" stop-color="#2a0066" stop-opacity="0"/></radialGradient><radialGradient id="g22"><stop offset="0" stop-color="#bf7cf0" stop-opacity="0.75"/><stop offset="0.4" stop-color="#bf7cf0" stop-opacity="0.35"/><stop offset="1" stop-color="#bf7cf0" stop-opacity="0"/></radialGradient><clipPath id="tp22"><path d="M-50,-4.5 C-22,-14 8,-25 50,-33 L50,-50 L-50,-50 Z"/></clipPath><linearGradient id="q22" x1="-45" y1="0" x2="40" y2="-10" gradientUnits="userSpaceOnUse"><stop offset="0" stop-color="#6114a4" stop-opacity="0.81"/><stop offset="1" stop-color="#6114a4" stop-opacity="0.95"/></linearGradient></defs><circle cx="-1.2" cy="-0.8" r="46.5" fill="#202030" opacity="0.42" filter="url(#sh)"/><circle r="45" fill="#fbfbf4"/><g clip-path="url(#cc)"><circle r="44" fill="url(#h22)"/><g filter="url(#bl)"><g clip-path="url(#tp22)"><rect x="-50" y="-50" width="100" height="50" fill="url(#q22)"/><rect x="-50" y="-50" width="100" height="50" fill="url(#k22)"/><path d="M-50,-4.5 C-22,-14 8,-25 50,-33" transform="translate(0 -3)" fill="none" stroke="#7c1ec3" stroke-width="1" opacity="0.3"/></g></g><ellipse cx="-15" cy="-27" rx="23" ry="10" transform="rotate(-22 -15 -27)" fill="url(#g22)"/><ellipse cx="-13.5" cy="-28" rx="15.5" ry="5.6" transform="rotate(-22 -13.5 -28)" fill="none" stroke="#bf7cf0" stroke-opacity="0.45" stroke-width="0.9" filter="url(#bl)"/><ellipse cx="-14.5" cy="-27.5" rx="10" ry="3.9" transform="rotate(-22 -14.5 -27.5)" fill="#ffffff" filter="url(#bl)"/><circle cx="-31" cy="-21" r="2.2" fill="#ffffff" opacity="0.7" filter="url(#bl)"/></g></g>
<g transform="translate(243.5,601.7) scale(0.9889)"><defs><radialGradient id="h23" cx="-10" cy="-7" r="64" fx="-10" fy="-9" gradientUnits="userSpaceOnUse" gradientTransform="translate(-10 -7) scale(1.18 1) translate(10 7)"><stop offset="0" stop-color="#d0a0f6"/><stop offset="0.132" stop-color="#d0a0f6"/><stop offset="0.286" stop-color="#b464ec"/><stop offset="0.440" stop-color="#9828e2"/><stop offset="0.74" stop-color="#8a21d6"/><stop offset="1" stop-color="#7818c8"/></radialGradient><radialGradient id="k23" cx="30" cy="-42" r="34" gradientUnits="userSpaceOnUse"><stop offset="0" stop-color="#2a0066"/><stop offset="0.45" stop-color="#2a0066" stop-opacity="0.92"/><stop offset="1" stop-color="#2a0066" stop-opacity="0"/></radialGradient><radialGradient id="g23"><stop offset="0" stop-color="#bf7cf0" stop-opacity="0.75"/><stop offset="0.4" stop-color="#bf7cf0" stop-opacity="0.35"/><stop offset="1" stop-color="#bf7cf0" stop-opacity="0"/></radialGradient><clipPath id="tp23"><path d="M-50,-4.5 C-22,-14 8,-25 50,-33 L50,-50 L-50,-50 Z"/></clipPath><linearGradient id="q23" x1="-45" y1="0" x2="40" y2="-10" gradientUnits="userSpaceOnUse"><stop offset="0" stop-color="#6114a4" stop-opacity="0.81"/><stop offset="1" stop-color="#6114a4" stop-opacity="0.95"/></linearGradient></defs><circle cx="-1.2" cy="-0.8" r="46.5" fill="#202030" opacity="0.42" filter="url(#sh)"/><circle r="45" fill="#fbfbf4"/><g clip-path="url(#cc)"><circle r="44" fill="url(#h23)"/><g filter="url(#bl)"><g clip-path="url(#tp23)"><rect x="-50" y="-50" width="100" height="50" fill="url(#q23)"/><rect x="-50" y="-50" width="100" height="50" fill="url(#k23)"/><path d="M-50,-4.5 C-22,-14 8,-25 50,-33" transform="translate(0 -3)" fill="none" stroke="#7c1ec3" stroke-width="1" opacity="0.3"/></g></g><ellipse cx="-15" cy="-27" rx="23" ry="10" transform="rotate(-22 -15 -27)" fill="url(#g23)"/><ellipse cx="-13.5" cy="-28" rx="15.5" ry="5.6" transform="rotate(-22 -13.5 -28)" fill="none" stroke="#bf7cf0" stroke-opacity="0.45" stroke-width="0.9" filter="url(#bl)"/><ellipse cx="-14.5" cy="-27.5" rx="10" ry="3.9" transform="rotate(-22 -14.5 -27.5)" fill="#ffffff" filter="url(#bl)"/><circle cx="-31" cy="-21" r="2.2" fill="#ffffff" opacity="0.7" filter="url(#bl)"/></g></g>
<g transform="translate(655.8,602) scale(0.9944)"><defs><radialGradient id="h24" cx="-10" cy="-7" r="64" fx="-10" fy="-9" gradientUnits="userSpaceOnUse" gradientTransform="translate(-10 -7) scale(1.18 1) translate(10 7)"><stop offset="0" stop-color="#a86868"/><stop offset="0.096" stop-color="#a86868"/><stop offset="0.208" stop-color="#ac4038"/><stop offset="0.320" stop-color="#b01808"/><stop offset="0.74" stop-color="#9e1306"/><stop offset="1" stop-color="#880c04"/></radialGradient><radialGradient id="k24" cx="30" cy="-42" r="34" gradientUnits="userSpaceOnUse"><stop offset="0" stop-color="#1a0000"/><stop offset="0.45" stop-color="#1a0000" stop-opacity="0.92"/><stop offset="1" stop-color="#1a0000" stop-opacity="0"/></radialGradient><radialGradient id="g24"><stop offset="0" stop-color="#ff6a30" stop-opacity="0.75"/><stop offset="0.4" stop-color="#ff6a30" stop-opacity="0.35"/><stop offset="1" stop-color="#ff6a30" stop-opacity="0"/></radialGradient><clipPath id="tp24"><path d="M-50,-4.5 C-22,-14 8,-25 50,-33 L50,-50 L-50,-50 Z"/></clipPath><linearGradient id="q24" x1="-45" y1="0" x2="40" y2="-10" gradientUnits="userSpaceOnUse"><stop offset="0" stop-color="#560a03" stop-opacity="0.81"/><stop offset="1" stop-color="#560a03" stop-opacity="0.95"/></linearGradient></defs><circle cx="-1.2" cy="-0.8" r="46.5" fill="#202030" opacity="0.42" filter="url(#sh)"/><circle r="45" fill="#fbfbf4"/><g clip-path="url(#cc)"><circle r="44" fill="url(#h24)"/><g filter="url(#bl)"><g clip-path="url(#tp24)"><rect x="-50" y="-50" width="100" height="50" fill="url(#q24)"/><rect x="-50" y="-50" width="100" height="50" fill="url(#k24)"/><path d="M-50,-4.5 C-22,-14 8,-25 50,-33" transform="translate(0 -3)" fill="none" stroke="#831106" stroke-width="1" opacity="0.3"/></g></g><ellipse cx="-15" cy="-27" rx="23" ry="10" transform="rotate(-22 -15 -27)" fill="url(#g24)"/><ellipse cx="-13.5" cy="-28" rx="15.5" ry="5.6" transform="rotate(-22 -13.5 -28)" fill="none" stroke="#ff6a30" stroke-opacity="0.45" stroke-width="0.9" filter="url(#bl)"/><ellipse cx="-14.5" cy="-27.5" rx="10" ry="3.9" transform="rotate(-22 -14.5 -27.5)" fill="#fff4e0" filter="url(#bl)"/><circle cx="-31" cy="-21" r="2.2" fill="#fff4e0" opacity="0.7" filter="url(#bl)"/></g></g>
<text x="318.9" y="578.80" class="ls">* UVA 365nm</text>
<text x="441" y="578.80" class="ls">* UVA 370nm</text>
<text x="318.9" y="596.66" class="ls">* UVA 375nm</text>
<text x="441" y="596.66" class="ls">* UVA 380nm</text>
<text x="318.9" y="614.52" class="ls">* UVA 385nm</text>
<text x="441" y="614.52" class="ls">* UVA 390nm</text>
<text x="318.9" y="632.38" class="ls">* UVA 395nm</text>
<text x="441" y="632.38" class="ls">* UVA 400nm</text>
<text x="318.9" y="650.24" class="ls">* UVA 405nm</text>
<text x="441" y="650.24" class="ls">* UVA 410nm</text>
<text x="318.9" y="668.10" class="ls">* UVA 415nm</text>
<text x="441" y="668.10" class="ls">* UVA 425nm</text>
<text x="732.2" y="598.90" class="ls">* IR 730nm</text>
<text x="838.4" y="598.90" class="ls">* IR 760nm</text>
<text x="732.2" y="616.27" class="ls">* IR 800nm</text>
<text x="838.4" y="616.27" class="ls">* IR 850nm</text>
<text x="732.2" y="633.64" class="ls">* IR 880nm</text>
<text x="838.4" y="633.64" class="ls">* IR 940nm</text>
<text x="732.2" y="651.01" class="ls">* IR 970nm</text>
<text x="838.4" y="651.01" class="ls">* IR 1000nm</text>
<g transform="translate(242,743.2) scale(1.0222)"><defs><radialGradient id="h25" cx="-10" cy="-7" r="64" fx="-10" fy="-9" gradientUnits="userSpaceOnUse" gradientTransform="translate(-10 -7) scale(1.18 1) translate(10 7)"><stop offset="0" stop-color="#f8a8b0"/><stop offset="0.126" stop-color="#f8a8b0"/><stop offset="0.273" stop-color="#ec6068"/><stop offset="0.420" stop-color="#e01820"/><stop offset="0.74" stop-color="#ce1419"/><stop offset="1" stop-color="#b81010"/></radialGradient><radialGradient id="k25" cx="30" cy="-42" r="34" gradientUnits="userSpaceOnUse"><stop offset="0" stop-color="#200000"/><stop offset="0.45" stop-color="#200000" stop-opacity="0.92"/><stop offset="1" stop-color="#200000" stop-opacity="0"/></radialGradient><radialGradient id="g25"><stop offset="0" stop-color="#f17d85" stop-opacity="0.75"/><stop offset="0.4" stop-color="#f17d85" stop-opacity="0.35"/><stop offset="1" stop-color="#f17d85" stop-opacity="0"/></radialGradient><clipPath id="tp25"><path d="M-50,-4.5 C-22,-14 8,-25 50,-33 L50,-50 L-50,-50 Z"/></clipPath><linearGradient id="q25" x1="-45" y1="0" x2="40" y2="-10" gradientUnits="userSpaceOnUse"><stop offset="0" stop-color="#800c10" stop-opacity="0.81"/><stop offset="1" stop-color="#800c10" stop-opacity="0.95"/></linearGradient></defs><circle cx="-1.2" cy="-0.8" r="46.5" fill="#202030" opacity="0.42" filter="url(#sh)"/><circle r="45" fill="#fbfbf4"/><g clip-path="url(#cc)"><circle r="44" fill="url(#h25)"/><radialGradient id="sp25"><stop offset="0" stop-color="#ffe4e8" stop-opacity="0.65"/><stop offset="0.45" stop-color="#ffe4e8" stop-opacity="0.49"/><stop offset="1" stop-color="#ffe4e8" stop-opacity="0"/></radialGradient><ellipse cx="-11" cy="-9" rx="15" ry="11" fill="url(#sp25)"/><g filter="url(#bl)"><g clip-path="url(#tp25)"><rect x="-50" y="-50" width="100" height="50" fill="url(#q25)"/><rect x="-50" y="-50" width="100" height="50" fill="url(#k25)"/><path d="M-50,-4.5 C-22,-14 8,-25 50,-33" transform="translate(0 -3)" fill="none" stroke="#b01218" stroke-width="1" opacity="0.3"/></g></g><ellipse cx="-15" cy="-27" rx="23" ry="10" transform="rotate(-22 -15 -27)" fill="url(#g25)"/><ellipse cx="-13.5" cy="-28" rx="15.5" ry="5.6" transform="rotate(-22 -13.5 -28)" fill="none" stroke="#f17d85" stroke-opacity="0.45" stroke-width="0.9" filter="url(#bl)"/><ellipse cx="-14.5" cy="-27.5" rx="10" ry="3.9" transform="rotate(-22 -14.5 -27.5)" fill="#ffffff" filter="url(#bl)"/><circle cx="-31" cy="-21" r="2.2" fill="#ffffff" opacity="0.7" filter="url(#bl)"/></g></g>
<g transform="translate(382.5,743.2) scale(1.0222)"><defs><radialGradient id="h26" cx="-10" cy="-7" r="64" fx="-10" fy="-9" gradientUnits="userSpaceOnUse" gradientTransform="translate(-10 -7) scale(1.18 1) translate(10 7)"><stop offset="0" stop-color="#f8a8b0"/><stop offset="0.126" stop-color="#f8a8b0"/><stop offset="0.273" stop-color="#ec6068"/><stop offset="0.420" stop-color="#e01820"/><stop offset="0.74" stop-color="#ce1419"/><stop offset="1" stop-color="#b81010"/></radialGradient><radialGradient id="k26" cx="30" cy="-42" r="34" gradientUnits="userSpaceOnUse"><stop offset="0" stop-color="#200000"/><stop offset="0.45" stop-color="#200000" stop-opacity="0.92"/><stop offset="1" stop-color="#200000" stop-opacity="0"/></radialGradient><radialGradient id="g26"><stop offset="0" stop-color="#f17d85" stop-opacity="0.75"/><stop offset="0.4" stop-color="#f17d85" stop-opacity="0.35"/><stop offset="1" stop-color="#f17d85" stop-opacity="0"/></radialGradient><clipPath id="tp26"><path d="M-50,-4.5 C-22,-14 8,-25 50,-33 L50,-50 L-50,-50 Z"/></clipPath><linearGradient id="q26" x1="-45" y1="0" x2="40" y2="-10" gradientUnits="userSpaceOnUse"><stop offset="0" stop-color="#800c10" stop-opacity="0.81"/><stop offset="1" stop-color="#800c10" stop-opacity="0.95"/></linearGradient></defs><circle cx="-1.2" cy="-0.8" r="46.5" fill="#202030" opacity="0.42" filter="url(#sh)"/><circle r="45" fill="#fbfbf4"/><g clip-path="url(#cc)"><circle r="44" fill="url(#h26)"/><radialGradient id="sp26"><stop offset="0" stop-color="#ffe4e8" stop-opacity="0.65"/><stop offset="0.45" stop-color="#ffe4e8" stop-opacity="0.49"/><stop offset="1" stop-color="#ffe4e8" stop-opacity="0"/></radialGradient><ellipse cx="-11" cy="-9" rx="15" ry="11" fill="url(#sp26)"/><g filter="url(#bl)"><g clip-path="url(#tp26)"><rect x="-50" y="-50" width="100" height="50" fill="url(#q26)"/><rect x="-50" y="-50" width="100" height="50" fill="url(#k26)"/><path d="M-50,-4.5 C-22,-14 8,-25 50,-33" transform="translate(0 -3)" fill="none" stroke="#b01218" stroke-width="1" opacity="0.3"/></g></g><ellipse cx="-15" cy="-27" rx="23" ry="10" transform="rotate(-22 -15 -27)" fill="url(#g26)"/><ellipse cx="-13.5" cy="-28" rx="15.5" ry="5.6" transform="rotate(-22 -13.5 -28)" fill="none" stroke="#f17d85" stroke-opacity="0.45" stroke-width="0.9" filter="url(#bl)"/><ellipse cx="-14.5" cy="-27.5" rx="10" ry="3.9" transform="rotate(-22 -14.5 -27.5)" fill="#ffffff" filter="url(#bl)"/><circle cx="-31" cy="-21" r="2.2" fill="#ffffff" opacity="0.7" filter="url(#bl)"/></g></g>
<g transform="translate(523.5,743.2) scale(1.0222)"><defs><radialGradient id="h27" cx="-10" cy="-7" r="64" fx="-10" fy="-9" gradientUnits="userSpaceOnUse" gradientTransform="translate(-10 -7) scale(1.18 1) translate(10 7)"><stop offset="0" stop-color="#c0c0ff"/><stop offset="0.138" stop-color="#c0c0ff"/><stop offset="0.299" stop-color="#6f69f2"/><stop offset="0.460" stop-color="#1e12e6"/><stop offset="0.74" stop-color="#1a0ed7"/><stop offset="1" stop-color="#1408c4"/></radialGradient><radialGradient id="k27" cx="30" cy="-42" r="34" gradientUnits="userSpaceOnUse"><stop offset="0" stop-color="#000020"/><stop offset="0.45" stop-color="#000020" stop-opacity="0.92"/><stop offset="1" stop-color="#000020" stop-opacity="0"/></radialGradient><radialGradient id="g27"><stop offset="0" stop-color="#8f8cf8" stop-opacity="0.75"/><stop offset="0.4" stop-color="#8f8cf8" stop-opacity="0.35"/><stop offset="1" stop-color="#8f8cf8" stop-opacity="0"/></radialGradient><clipPath id="tp27"><path d="M-50,-4.5 C-22,-14 8,-25 50,-33 L50,-50 L-50,-50 Z"/></clipPath><linearGradient id="q27" x1="-45" y1="0" x2="40" y2="-10" gradientUnits="userSpaceOnUse"><stop offset="0" stop-color="#0f0983" stop-opacity="0.81"/><stop offset="1" stop-color="#0f0983" stop-opacity="0.95"/></linearGradient></defs><circle cx="-1.2" cy="-0.8" r="46.5" fill="#202030" opacity="0.42" filter="url(#sh)"/><circle r="45" fill="#fbfbf4"/><g clip-path="url(#cc)"><circle r="44" fill="url(#h27)"/><radialGradient id="sp27"><stop offset="0" stop-color="#ffffff" stop-opacity="0.85"/><stop offset="0.45" stop-color="#ffffff" stop-opacity="0.64"/><stop offset="1" stop-color="#ffffff" stop-opacity="0"/></radialGradient><ellipse cx="-11" cy="-9" rx="16" ry="12" fill="url(#sp27)"/><g filter="url(#bl)"><g clip-path="url(#tp27)"><rect x="-50" y="-50" width="100" height="50" fill="url(#q27)"/><rect x="-50" y="-50" width="100" height="50" fill="url(#k27)"/><path d="M-50,-4.5 C-22,-14 8,-25 50,-33" transform="translate(0 -3)" fill="none" stroke="#160eb4" stroke-width="1" opacity="0.3"/></g></g><ellipse cx="-15" cy="-27" rx="23" ry="10" transform="rotate(-22 -15 -27)" fill="url(#g27)"/><ellipse cx="-13.5" cy="-28" rx="15.5" ry="5.6" transform="rotate(-22 -13.5 -28)" fill="none" stroke="#8f8cf8" stroke-opacity="0.45" stroke-width="0.9" filter="url(#bl)"/><ellipse cx="-14.5" cy="-27.5" rx="10" ry="3.9" transform="rotate(-22 -14.5 -27.5)" fill="#ffffff" filter="url(#bl)"/><circle cx="-31" cy="-21" r="2.2" fill="#ffffff" opacity="0.7" filter="url(#bl)"/></g></g>
<g transform="translate(656.6,743.2) scale(1.0222)"><defs><radialGradient id="h28" cx="-10" cy="-7" r="64" fx="-10" fy="-9" gradientUnits="userSpaceOnUse" gradientTransform="translate(-10 -7) scale(1.18 1) translate(10 7)"><stop offset="0" stop-color="#fab8f0"/><stop offset="0.135" stop-color="#fab8f0"/><stop offset="0.293" stop-color="#ed74d8"/><stop offset="0.450" stop-color="#e030c0"/><stop offset="0.74" stop-color="#d229b5"/><stop offset="1" stop-color="#c020a8"/></radialGradient><radialGradient id="k28" cx="30" cy="-42" r="34" gradientUnits="userSpaceOnUse"><stop offset="0" stop-color="#2a001e"/><stop offset="0.45" stop-color="#2a001e" stop-opacity="0.92"/><stop offset="1" stop-color="#2a001e" stop-opacity="0"/></radialGradient><radialGradient id="g28"><stop offset="0" stop-color="#f28fe2" stop-opacity="0.75"/><stop offset="0.4" stop-color="#f28fe2" stop-opacity="0.35"/><stop offset="1" stop-color="#f28fe2" stop-opacity="0"/></radialGradient><clipPath id="tp28"><path d="M-50,-4.5 C-22,-14 8,-25 50,-33 L50,-50 L-50,-50 Z"/></clipPath><linearGradient id="q28" x1="-45" y1="0" x2="40" y2="-10" gradientUnits="userSpaceOnUse"><stop offset="0" stop-color="#85186f" stop-opacity="0.81"/><stop offset="1" stop-color="#85186f" stop-opacity="0.95"/></linearGradient></defs><circle cx="-1.2" cy="-0.8" r="46.5" fill="#202030" opacity="0.42" filter="url(#sh)"/><circle r="45" fill="#fbfbf4"/><g clip-path="url(#cc)"><circle r="44" fill="url(#h28)"/><g filter="url(#bl)"><g clip-path="url(#tp28)"><rect x="-50" y="-50" width="100" height="50" fill="url(#q28)"/><rect x="-50" y="-50" width="100" height="50" fill="url(#k28)"/><path d="M-50,-4.5 C-22,-14 8,-25 50,-33" transform="translate(0 -3)" fill="none" stroke="#b22498" stroke-width="1" opacity="0.3"/></g></g><ellipse cx="-15" cy="-27" rx="23" ry="10" transform="rotate(-22 -15 -27)" fill="url(#g28)"/><ellipse cx="-13.5" cy="-28" rx="15.5" ry="5.6" transform="rotate(-22 -13.5 -28)" fill="none" stroke="#f28fe2" stroke-opacity="0.45" stroke-width="0.9" filter="url(#bl)"/><ellipse cx="-14.5" cy="-27.5" rx="10" ry="3.9" transform="rotate(-22 -14.5 -27.5)" fill="#ffffff" filter="url(#bl)"/><circle cx="-31" cy="-21" r="2.2" fill="#ffffff" opacity="0.7" filter="url(#bl)"/></g></g>
<g transform="translate(795,743.2) scale(1.0222)"><defs><radialGradient id="h29" cx="-10" cy="-7" r="64" fx="-10" fy="-9" gradientUnits="userSpaceOnUse" gradientTransform="translate(-10 -7) scale(1.18 1) translate(10 7)"><stop offset="0" stop-color="#fcfcfc"/><stop offset="0.210" stop-color="#fcfcfc"/><stop offset="0.455" stop-color="#e0e0e2"/><stop offset="0.700" stop-color="#c4c4c8"/><stop offset="0.74" stop-color="#a7a7ab"/><stop offset="1" stop-color="#848488"/></radialGradient><radialGradient id="k29" cx="30" cy="-42" r="34" gradientUnits="userSpaceOnUse"><stop offset="0" stop-color="#121214"/><stop offset="0.45" stop-color="#121214" stop-opacity="0.92"/><stop offset="1" stop-color="#121214" stop-opacity="0"/></radialGradient><radialGradient id="g29"><stop offset="0" stop-color="#ebebec" stop-opacity="0.75"/><stop offset="0.4" stop-color="#ebebec" stop-opacity="0.35"/><stop offset="1" stop-color="#ebebec" stop-opacity="0"/></radialGradient><clipPath id="tp29"><path d="M-50,-4.5 C-22,-14 8,-25 50,-33 L50,-50 L-50,-50 Z"/></clipPath><linearGradient id="q29" x1="-45" y1="0" x2="40" y2="-10" gradientUnits="userSpaceOnUse"><stop offset="0" stop-color="#626265" stop-opacity="0.81"/><stop offset="1" stop-color="#626265" stop-opacity="0.95"/></linearGradient></defs><circle cx="-1.2" cy="-0.8" r="46.5" fill="#202030" opacity="0.42" filter="url(#sh)"/><circle r="45" fill="#fbfbf4"/><g clip-path="url(#cc)"><circle r="44" fill="url(#h29)"/><g filter="url(#bl)"><g clip-path="url(#tp29)"><rect x="-50" y="-50" width="100" height="50" fill="url(#q29)"/><rect x="-50" y="-50" width="100" height="50" fill="url(#k29)"/><path d="M-50,-4.5 C-22,-14 8,-25 50,-33" transform="translate(0 -3)" fill="none" stroke="#939396" stroke-width="1" opacity="0.3"/></g></g><ellipse cx="-15" cy="-27" rx="23" ry="10" transform="rotate(-22 -15 -27)" fill="url(#g29)"/><ellipse cx="-13.5" cy="-28" rx="15.5" ry="5.6" transform="rotate(-22 -13.5 -28)" fill="none" stroke="#ebebec" stroke-opacity="0.45" stroke-width="0.9" filter="url(#bl)"/><ellipse cx="-14.5" cy="-27.5" rx="10" ry="3.9" transform="rotate(-22 -14.5 -27.5)" fill="#ffffff" filter="url(#bl)"/><circle cx="-31" cy="-21" r="2.2" fill="#ffffff" opacity="0.7" filter="url(#bl)"/></g></g>
<g transform="translate(926,743.2) scale(1.0222)"><defs><radialGradient id="h30" cx="-10" cy="-7" r="64" fx="-10" fy="-9" gradientUnits="userSpaceOnUse" gradientTransform="translate(-10 -7) scale(1.18 1) translate(10 7)"><stop offset="0" stop-color="#faf2e0"/><stop offset="0.204" stop-color="#faf2e0"/><stop offset="0.442" stop-color="#ebdcbd"/><stop offset="0.680" stop-color="#dcc69a"/><stop offset="0.74" stop-color="#c5ab7c"/><stop offset="1" stop-color="#a88a58"/></radialGradient><radialGradient id="k30" cx="30" cy="-42" r="34" gradientUnits="userSpaceOnUse"><stop offset="0" stop-color="#2a2010"/><stop offset="0.45" stop-color="#2a2010" stop-opacity="0.92"/><stop offset="1" stop-color="#2a2010" stop-opacity="0"/></radialGradient><radialGradient id="g30"><stop offset="0" stop-color="#f1e5cb" stop-opacity="0.75"/><stop offset="0.4" stop-color="#f1e5cb" stop-opacity="0.35"/><stop offset="1" stop-color="#f1e5cb" stop-opacity="0"/></radialGradient><clipPath id="tp30"><path d="M-50,-4.5 C-22,-14 8,-25 50,-33 L50,-50 L-50,-50 Z"/></clipPath><linearGradient id="q30" x1="-45" y1="0" x2="40" y2="-10" gradientUnits="userSpaceOnUse"><stop offset="0" stop-color="#837355" stop-opacity="0.81"/><stop offset="1" stop-color="#837355" stop-opacity="0.95"/></linearGradient></defs><circle cx="-1.2" cy="-0.8" r="46.5" fill="#202030" opacity="0.42" filter="url(#sh)"/><circle r="45" fill="#fbfbf4"/><g clip-path="url(#cc)"><circle r="44" fill="url(#h30)"/><g filter="url(#bl)"><g clip-path="url(#tp30)"><rect x="-50" y="-50" width="100" height="50" fill="url(#q30)"/><rect x="-50" y="-50" width="100" height="50" fill="url(#k30)"/><path d="M-50,-4.5 C-22,-14 8,-25 50,-33" transform="translate(0 -3)" fill="none" stroke="#b09c78" stroke-width="1" opacity="0.3"/></g></g><ellipse cx="-15" cy="-27" rx="23" ry="10" transform="rotate(-22 -15 -27)" fill="url(#g30)"/><ellipse cx="-13.5" cy="-28" rx="15.5" ry="5.6" transform="rotate(-22 -13.5 -28)" fill="none" stroke="#f1e5cb" stroke-opacity="0.45" stroke-width="0.9" filter="url(#bl)"/><ellipse cx="-14.5" cy="-27.5" rx="10" ry="3.9" transform="rotate(-22 -14.5 -27.5)" fill="#ffffff" filter="url(#bl)"/><circle cx="-31" cy="-21" r="2.2" fill="#ffffff" opacity="0.7" filter="url(#bl)"/></g></g>
<g transform="translate(242.5,893) scale(1.0333)"><defs><radialGradient id="h31" cx="-10" cy="-7" r="64" fx="-10" fy="-9" gradientUnits="userSpaceOnUse" gradientTransform="translate(-10 -7) scale(1.18 1) translate(10 7)"><stop offset="0" stop-color="#f8f4e8"/><stop offset="0.204" stop-color="#f8f4e8"/><stop offset="0.442" stop-color="#e0dac4"/><stop offset="0.680" stop-color="#c8c0a0"/><stop offset="0.74" stop-color="#a8a080"/><stop offset="1" stop-color="#807858"/></radialGradient><radialGradient id="k31" cx="30" cy="-42" r="34" gradientUnits="userSpaceOnUse"><stop offset="0" stop-color="#1c1c0c"/><stop offset="0.45" stop-color="#1c1c0c" stop-opacity="0.92"/><stop offset="1" stop-color="#1c1c0c" stop-opacity="0"/></radialGradient><radialGradient id="g31"><stop offset="0" stop-color="#eae4d2" stop-opacity="0.75"/><stop offset="0.4" stop-color="#eae4d2" stop-opacity="0.35"/><stop offset="1" stop-color="#eae4d2" stop-opacity="0"/></radialGradient><clipPath id="tp31"><path d="M-50,-4.5 C-22,-14 8,-25 50,-33 L50,-50 L-50,-50 Z"/></clipPath><linearGradient id="q31" x1="-45" y1="0" x2="40" y2="-10" gradientUnits="userSpaceOnUse"><stop offset="0" stop-color="#726e56" stop-opacity="0.81"/><stop offset="1" stop-color="#726e56" stop-opacity="0.95"/></linearGradient></defs><circle cx="-1.2" cy="-0.8" r="46.5" fill="#202030" opacity="0.42" filter="url(#sh)"/><circle r="45" fill="#fbfbf4"/><g clip-path="url(#cc)"><circle r="44" fill="url(#h31)"/><g filter="url(#bl)"><g clip-path="url(#tp31)"><rect x="-50" y="-50" width="100" height="50" fill="url(#q31)"/><rect x="-50" y="-50" width="100" height="50" fill="url(#k31)"/><path d="M-50,-4.5 C-22,-14 8,-25 50,-33" transform="translate(0 -3)" fill="none" stroke="#9d977b" stroke-width="1" opacity="0.3"/></g></g><ellipse cx="-15" cy="-27" rx="23" ry="10" transform="rotate(-22 -15 -27)" fill="url(#g31)"/><ellipse cx="-13.5" cy="-28" rx="15.5" ry="5.6" transform="rotate(-22 -13.5 -28)" fill="none" stroke="#eae4d2" stroke-opacity="0.45" stroke-width="0.9" filter="url(#bl)"/><ellipse cx="-14.5" cy="-27.5" rx="10" ry="3.9" transform="rotate(-22 -14.5 -27.5)" fill="#ffffff" filter="url(#bl)"/><circle cx="-31" cy="-21" r="2.2" fill="#ffffff" opacity="0.7" filter="url(#bl)"/></g></g>
<g transform="translate(375.2,893) scale(1.0333)"><defs><radialGradient id="h32" cx="-10" cy="-7" r="64" fx="-10" fy="-9" gradientUnits="userSpaceOnUse" gradientTransform="translate(-10 -7) scale(1.18 1) translate(10 7)"><stop offset="0" stop-color="#fcfcfe"/><stop offset="0.210" stop-color="#fcfcfe"/><stop offset="0.455" stop-color="#e1e1e8"/><stop offset="0.700" stop-color="#c6c6d2"/><stop offset="0.74" stop-color="#a6a6b9"/><stop offset="1" stop-color="#80809a"/></radialGradient><radialGradient id="k32" cx="30" cy="-42" r="34" gradientUnits="userSpaceOnUse"><stop offset="0" stop-color="#121220"/><stop offset="0.45" stop-color="#121220" stop-opacity="0.92"/><stop offset="1" stop-color="#121220" stop-opacity="0"/></radialGradient><radialGradient id="g32"><stop offset="0" stop-color="#ececf1" stop-opacity="0.75"/><stop offset="0.4" stop-color="#ececf1" stop-opacity="0.35"/><stop offset="1" stop-color="#ececf1" stop-opacity="0"/></radialGradient><clipPath id="tp32"><path d="M-50,-4.5 C-22,-14 8,-25 50,-33 L50,-50 L-50,-50 Z"/></clipPath><linearGradient id="q32" x1="-45" y1="0" x2="40" y2="-10" gradientUnits="userSpaceOnUse"><stop offset="0" stop-color="#636370" stop-opacity="0.81"/><stop offset="1" stop-color="#636370" stop-opacity="0.95"/></linearGradient></defs><circle cx="-1.2" cy="-0.8" r="46.5" fill="#202030" opacity="0.42" filter="url(#sh)"/><circle r="45" fill="#fbfbf4"/><g clip-path="url(#cc)"><circle r="44" fill="url(#h32)"/><g filter="url(#bl)"><g clip-path="url(#tp32)"><rect x="-50" y="-50" width="100" height="50" fill="url(#q32)"/><rect x="-50" y="-50" width="100" height="50" fill="url(#k32)"/><path d="M-50,-4.5 C-22,-14 8,-25 50,-33" transform="translate(0 -3)" fill="none" stroke="#9494a1" stroke-width="1" opacity="0.3"/></g></g><ellipse cx="-15" cy="-27" rx="23" ry="10" transform="rotate(-22 -15 -27)" fill="url(#g32)"/><ellipse cx="-13.5" cy="-28" rx="15.5" ry="5.6" transform="rotate(-22 -13.5 -28)" fill="none" stroke="#ececf1" stroke-opacity="0.45" stroke-width="0.9" filter="url(#bl)"/><ellipse cx="-14.5" cy="-27.5" rx="10" ry="3.9" transform="rotate(-22 -14.5 -27.5)" fill="#ffffff" filter="url(#bl)"/><circle cx="-31" cy="-21" r="2.2" fill="#ffffff" opacity="0.7" filter="url(#bl)"/></g></g>
<g transform="translate(514.7,892.5) scale(1.0278)"><defs><radialGradient id="h33" cx="-6" cy="-13" r="66" fx="-7" fy="-15" gradientUnits="userSpaceOnUse"><stop offset="0" stop-color="#fffae8"/><stop offset="0.240" stop-color="#fffae8"/><stop offset="0.432" stop-color="#f6cdac"/><stop offset="0.600" stop-color="#eca070"/><stop offset="0.8" stop-color="#e49260"/><stop offset="1" stop-color="#dc8450"/></radialGradient><linearGradient id="w33" x1="-40" y1="-40" x2="-20" y2="-20" gradientUnits="userSpaceOnUse"><stop offset="0" stop-color="#9c2410"/><stop offset="1" stop-color="#b84f32"/></linearGradient></defs><circle cx="-1.2" cy="-0.8" r="46.5" fill="#202030" opacity="0.42" filter="url(#sh)"/><circle r="45" fill="#fbfbf4"/><g clip-path="url(#cc)"><circle r="44" fill="url(#h33)"/><path d="M-50,2 L-45,-1 Q-27,-22 2,-44 L8,-50 L-50,-50 Z" fill="url(#w33)" opacity="0.85" filter="url(#bl)"/><path d="M-46,-6 Q-28,-25 -2,-44" fill="none" stroke="#e85a28" stroke-width="3" opacity="0.85" filter="url(#bl)"/><ellipse cx="-21" cy="-22" rx="8" ry="4.5" transform="rotate(-45 -21 -22)" fill="#ffffff" opacity="0.95" filter="url(#bl2)"/></g></g>
<g transform="translate(656.8,892.5) scale(1.0278)"><defs><radialGradient id="h34" cx="-6" cy="-13" r="66" fx="-7" fy="-15" gradientUnits="userSpaceOnUse"><stop offset="0" stop-color="#fffcf0"/><stop offset="0.232" stop-color="#fffcf0"/><stop offset="0.418" stop-color="#dec69c"/><stop offset="0.580" stop-color="#bc9048"/><stop offset="0.8" stop-color="#a37a38"/><stop offset="1" stop-color="#8a6428"/></radialGradient><linearGradient id="w34" x1="-40" y1="-40" x2="-20" y2="-20" gradientUnits="userSpaceOnUse"><stop offset="0" stop-color="#241808"/><stop offset="1" stop-color="#59421e"/></linearGradient></defs><circle cx="-1.2" cy="-0.8" r="46.5" fill="#202030" opacity="0.42" filter="url(#sh)"/><circle r="45" fill="#fbfbf4"/><g clip-path="url(#cc)"><circle r="44" fill="url(#h34)"/><path d="M-50,2 L-45,-1 Q-27,-22 2,-44 L8,-50 L-50,-50 Z" fill="url(#w34)" opacity="0.92" filter="url(#bl)"/><ellipse cx="-21" cy="-22" rx="8" ry="4.5" transform="rotate(-45 -21 -22)" fill="#ffffff" opacity="0.95" filter="url(#bl2)"/></g></g>
<g transform="translate(790.5,892.5) scale(1.0278)"><defs><radialGradient id="h35" cx="-6" cy="-13" r="66" fx="-7" fy="-15" gradientUnits="userSpaceOnUse"><stop offset="0" stop-color="#fffffa"/><stop offset="0.264" stop-color="#fffffa"/><stop offset="0.475" stop-color="#ece6ce"/><stop offset="0.660" stop-color="#dacda2"/><stop offset="0.8" stop-color="#c4b486"/><stop offset="1" stop-color="#ae9c6a"/></radialGradient><linearGradient id="w35" x1="-40" y1="-40" x2="-20" y2="-20" gradientUnits="userSpaceOnUse"><stop offset="0" stop-color="#4a4630"/><stop offset="1" stop-color="#7c7558"/></linearGradient></defs><circle cx="-1.2" cy="-0.8" r="46.5" fill="#202030" opacity="0.42" filter="url(#sh)"/><circle r="45" fill="#fbfbf4"/><g clip-path="url(#cc)"><circle r="44" fill="url(#h35)"/><path d="M-50,2 L-45,-1 Q-27,-22 2,-44 L8,-50 L-50,-50 Z" fill="url(#w35)" opacity="0.85" filter="url(#bl)"/><path d="M-47,-3 L-30,-17" stroke="#d05a34" stroke-width="4.5" stroke-linecap="round" opacity="0.9" filter="url(#bl)"/><ellipse cx="-21" cy="-22" rx="8" ry="4.5" transform="rotate(-45 -21 -22)" fill="#ffffff" opacity="0.95" filter="url(#bl2)"/></g></g>
<g transform="translate(929,892.5) scale(1.0278)"><defs><radialGradient id="h36" cx="-6" cy="-13" r="66" fx="-7" fy="-15" gradientUnits="userSpaceOnUse"><stop offset="0" stop-color="#ffffff"/><stop offset="0.264" stop-color="#ffffff"/><stop offset="0.475" stop-color="#eaeaec"/><stop offset="0.660" stop-color="#d6d6da"/><stop offset="0.8" stop-color="#b9b9bf"/><stop offset="1" stop-color="#9c9ca4"/></radialGradient><linearGradient id="w36" x1="-40" y1="-40" x2="-20" y2="-20" gradientUnits="userSpaceOnUse"><stop offset="0" stop-color="#343c46"/><stop offset="1" stop-color="#6d727a"/></linearGradient></defs><circle cx="-1.2" cy="-0.8" r="46.5" fill="#202030" opacity="0.42" filter="url(#sh)"/><circle r="45" fill="#fbfbf4"/><g clip-path="url(#cc)"><circle r="44" fill="url(#h36)"/><path d="M-50,2 L-45,-1 Q-27,-22 2,-44 L8,-50 L-50,-50 Z" fill="url(#w36)" opacity="0.9" filter="url(#bl)"/><path d="M-47,-3 L-30,-17" stroke="#c84858" stroke-width="4.5" stroke-linecap="round" opacity="0.9" filter="url(#bl)"/><ellipse cx="-21" cy="-22" rx="8" ry="4.5" transform="rotate(-45 -21 -22)" fill="#ffffff" opacity="0.95" filter="url(#bl2)"/></g></g>
<text x="243.5" y="225.2" class="lb" text-anchor="middle" textLength="72.8" lengthAdjust="spacingAndGlyphs">Warm White</text><text x="243.5" y="240.50" class="sb" text-anchor="middle" textLength="59.9" lengthAdjust="spacingAndGlyphs">3000-3500K</text>
<text x="380.5" y="225.2" class="lb" text-anchor="middle" textLength="80.8" lengthAdjust="spacingAndGlyphs">Natural White</text><text x="380.5" y="240.50" class="sb" text-anchor="middle" textLength="60.6" lengthAdjust="spacingAndGlyphs">4000-5500K</text>
<text x="522.6" y="225.2" class="lb" text-anchor="middle" textLength="64.4" lengthAdjust="spacingAndGlyphs">Pure White</text><text x="522.6" y="240.50" class="sb" text-anchor="middle" textLength="60.6" lengthAdjust="spacingAndGlyphs">6000-6500K</text>
<text x="659.8" y="225.4" class="lb" text-anchor="middle" textLength="65.6" lengthAdjust="spacingAndGlyphs">Cool White</text><text x="659.8" y="240.40" class="sb" text-anchor="middle" textLength="71.6" lengthAdjust="spacingAndGlyphs">10000-15000K</text>
<text x="797.5" y="225.4" class="lb" text-anchor="middle" textLength="65.8" lengthAdjust="spacingAndGlyphs">Cool White</text><text x="797.5" y="240.40" class="sb" text-anchor="middle" textLength="73.1" lengthAdjust="spacingAndGlyphs">20000-25000K</text>
<text x="928.6" y="225.4" class="lb" text-anchor="middle" textLength="65.8" lengthAdjust="spacingAndGlyphs">Cool White</text><text x="928.6" y="240.40" class="sb" text-anchor="middle" textLength="72.6" lengthAdjust="spacingAndGlyphs">30000-35000K</text>
<text x="244.0" y="367.6" class="lb" text-anchor="middle" textLength="26.6" lengthAdjust="spacingAndGlyphs">Blue</text><text x="244.0" y="381.80" class="sb" text-anchor="middle" textLength="56.3" lengthAdjust="spacingAndGlyphs">460-465nm</text>
<text x="380.6" y="367.6" class="lb" text-anchor="middle" textLength="29.6" lengthAdjust="spacingAndGlyphs">Cyan</text><text x="380.6" y="381.80" class="sb" text-anchor="middle" textLength="55.6" lengthAdjust="spacingAndGlyphs">490-495nm</text>
<text x="522.8" y="367.6" class="lb" text-anchor="middle" textLength="34.6" lengthAdjust="spacingAndGlyphs">Green</text><text x="522.8" y="381.80" class="sb" text-anchor="middle" textLength="55.6" lengthAdjust="spacingAndGlyphs">520-525nm</text>
<text x="659.8" y="367.6" class="lb" text-anchor="middle" textLength="40.3" lengthAdjust="spacingAndGlyphs">Yellow</text><text x="659.8" y="381.80" class="sb" text-anchor="middle" textLength="55.1" lengthAdjust="spacingAndGlyphs">590-595nm</text>
<text x="797.6" y="367.6" class="lb" text-anchor="middle" textLength="38.3" lengthAdjust="spacingAndGlyphs">Amber</text><text x="797.6" y="381.80" class="sb" text-anchor="middle" textLength="55.1" lengthAdjust="spacingAndGlyphs">595-600nm</text>
<text x="928.4" y="367.6" class="lb" text-anchor="middle" textLength="42.0" lengthAdjust="spacingAndGlyphs">Orange</text><text x="928.4" y="381.80" class="sb" text-anchor="middle" textLength="55.6" lengthAdjust="spacingAndGlyphs">600-605nm</text>
<text x="243.7" y="508.6" class="lb" text-anchor="middle" textLength="22.8" lengthAdjust="spacingAndGlyphs">Red</text><text x="243.7" y="523.10" class="sb" text-anchor="middle" textLength="55.6" lengthAdjust="spacingAndGlyphs">620-625nm</text>
<text x="435.8" y="509.4" class="lb" text-anchor="middle" textLength="28.8" lengthAdjust="spacingAndGlyphs">RGB</text><text x="435.8" y="523.60" class="sb" text-anchor="middle" textLength="142.3" lengthAdjust="spacingAndGlyphs">R:625nm/G:525nm/B:465nm</text>
<text x="755.2" y="509.4" class="lb" text-anchor="middle" textLength="70.8" lengthAdjust="spacingAndGlyphs">RGBW-Y-V</text><text x="755.2" y="523.20" class="sb" text-anchor="middle" textLength="219.3" lengthAdjust="spacingAndGlyphs">R:620-625nm / G:520-525nm / B:460-465nm</text><text x="755.2" y="537.80" class="sb" text-anchor="middle" textLength="229.3" lengthAdjust="spacingAndGlyphs">W:6000-8000K / Y:590-595nm / V:395-400nm</text>
<text x="243.7" y="664.9" class="lb" text-anchor="middle" textLength="37.4" lengthAdjust="spacingAndGlyphs">Purple</text><text x="243.7" y="679.50" class="sb" text-anchor="middle" textLength="83.5" lengthAdjust="spacingAndGlyphs">UVA 390-395nm</text>
<text x="655.8" y="664.9" class="lb" text-anchor="middle" textLength="46.1" lengthAdjust="spacingAndGlyphs">Infrared</text><text x="655.8" y="679.50" class="sb" text-anchor="middle" textLength="70.3" lengthAdjust="spacingAndGlyphs">IR 730-740nm</text>
<text x="243.2" y="807.0" class="lb" text-anchor="middle" textLength="98.3" lengthAdjust="spacingAndGlyphs">Deep Red 660nm</text><text x="243.2" y="821.30" class="sb" text-anchor="middle" textLength="55.6" lengthAdjust="spacingAndGlyphs">660-665nm</text>
<text x="380.0" y="807.0" class="lb" text-anchor="middle" textLength="98.3" lengthAdjust="spacingAndGlyphs">Deep Red 670nm</text><text x="380.0" y="821.30" class="sb" text-anchor="middle" textLength="56.1" lengthAdjust="spacingAndGlyphs">670-675nm</text>
<text x="522.5" y="807.0" class="lb" text-anchor="middle" textLength="106.8" lengthAdjust="spacingAndGlyphs">Royal Blue 440nm</text><text x="522.5" y="821.30" class="sb" text-anchor="middle" textLength="55.6" lengthAdjust="spacingAndGlyphs">440-450nm</text>
<text x="654.2" y="807.0" class="lb" text-anchor="middle" textLength="91.6" lengthAdjust="spacingAndGlyphs">Full Spectrum-1</text><text x="654.2" y="821.30" class="sb" text-anchor="middle" textLength="55.6" lengthAdjust="spacingAndGlyphs">400-840nm</text>
<text x="794.4" y="807.0" class="lb" text-anchor="middle" textLength="92.0" lengthAdjust="spacingAndGlyphs">Full Spectrum-2</text><text x="794.4" y="821.30" class="sb" text-anchor="middle" textLength="60.6" lengthAdjust="spacingAndGlyphs">6000-8000K</text><text x="794.4" y="835.80" class="sb" text-anchor="middle" textLength="39.4" lengthAdjust="spacingAndGlyphs">CRI&gt;90</text>
<text x="925.7" y="807.0" class="lb" text-anchor="middle" textLength="92.0" lengthAdjust="spacingAndGlyphs">Full Spectrum-3</text><text x="925.7" y="821.30" class="sb" text-anchor="middle" textLength="59.9" lengthAdjust="spacingAndGlyphs">2800-3200K</text><text x="925.7" y="835.80" class="sb" text-anchor="middle" textLength="39.9" lengthAdjust="spacingAndGlyphs">CRI&gt;90</text>
<text x="239.1" y="957.0" class="lb" text-anchor="middle" textLength="91.6" lengthAdjust="spacingAndGlyphs">Full Spectrum-4</text><text x="239.1" y="971.30" class="sb" text-anchor="middle" textLength="61.4" lengthAdjust="spacingAndGlyphs">3500-4000K</text><text x="239.1" y="985.80" class="sb" text-anchor="middle" textLength="39.4" lengthAdjust="spacingAndGlyphs">CRI&gt;90</text>
<text x="373.8" y="957.0" class="lb" text-anchor="middle" textLength="92.3" lengthAdjust="spacingAndGlyphs">Full Spectrum-5</text><text x="373.8" y="971.30" class="sb" text-anchor="middle" textLength="72.1" lengthAdjust="spacingAndGlyphs">10000-15000K</text><text x="373.8" y="985.80" class="sb" text-anchor="middle" textLength="39.4" lengthAdjust="spacingAndGlyphs">CRI&gt;90</text>
<text x="512.9" y="956.8" class="lb" text-anchor="middle" textLength="122.6" lengthAdjust="spacingAndGlyphs">Full Spectrum of Sun</text><text x="512.9" y="970.80" class="sb" text-anchor="middle" textLength="60.6" lengthAdjust="spacingAndGlyphs">1600-1900K</text><text x="512.9" y="984.80" class="sb" text-anchor="middle" textLength="39.0" lengthAdjust="spacingAndGlyphs">CRI&gt;95</text>
<text x="656.2" y="956.8" class="lb" text-anchor="middle" textLength="121.7" lengthAdjust="spacingAndGlyphs">Full Spectrum of Sun</text><text x="656.2" y="970.80" class="sb" text-anchor="middle" textLength="61.4" lengthAdjust="spacingAndGlyphs">2800-3200K</text><text x="656.2" y="984.80" class="sb" text-anchor="middle" textLength="38.1" lengthAdjust="spacingAndGlyphs">CRI&gt;95</text>
<text x="792.4" y="956.8" class="lb" text-anchor="middle" textLength="122.0" lengthAdjust="spacingAndGlyphs">Full Spectrum of Sun</text><text x="792.4" y="970.80" class="sb" text-anchor="middle" textLength="61.0" lengthAdjust="spacingAndGlyphs">4000-4500K</text><text x="792.4" y="984.80" class="sb" text-anchor="middle" textLength="39.2" lengthAdjust="spacingAndGlyphs">CRI&gt;95</text>
<text x="930.4" y="956.8" class="lb" text-anchor="middle" textLength="122.0" lengthAdjust="spacingAndGlyphs">Full Spectrum of Sun</text><text x="930.4" y="970.80" class="sb" text-anchor="middle" textLength="60.8" lengthAdjust="spacingAndGlyphs">4700-5200K</text><text x="930.4" y="984.80" class="sb" text-anchor="middle" textLength="38.4" lengthAdjust="spacingAndGlyphs">CRI&gt;95</text>
</svg>
</body></html>
